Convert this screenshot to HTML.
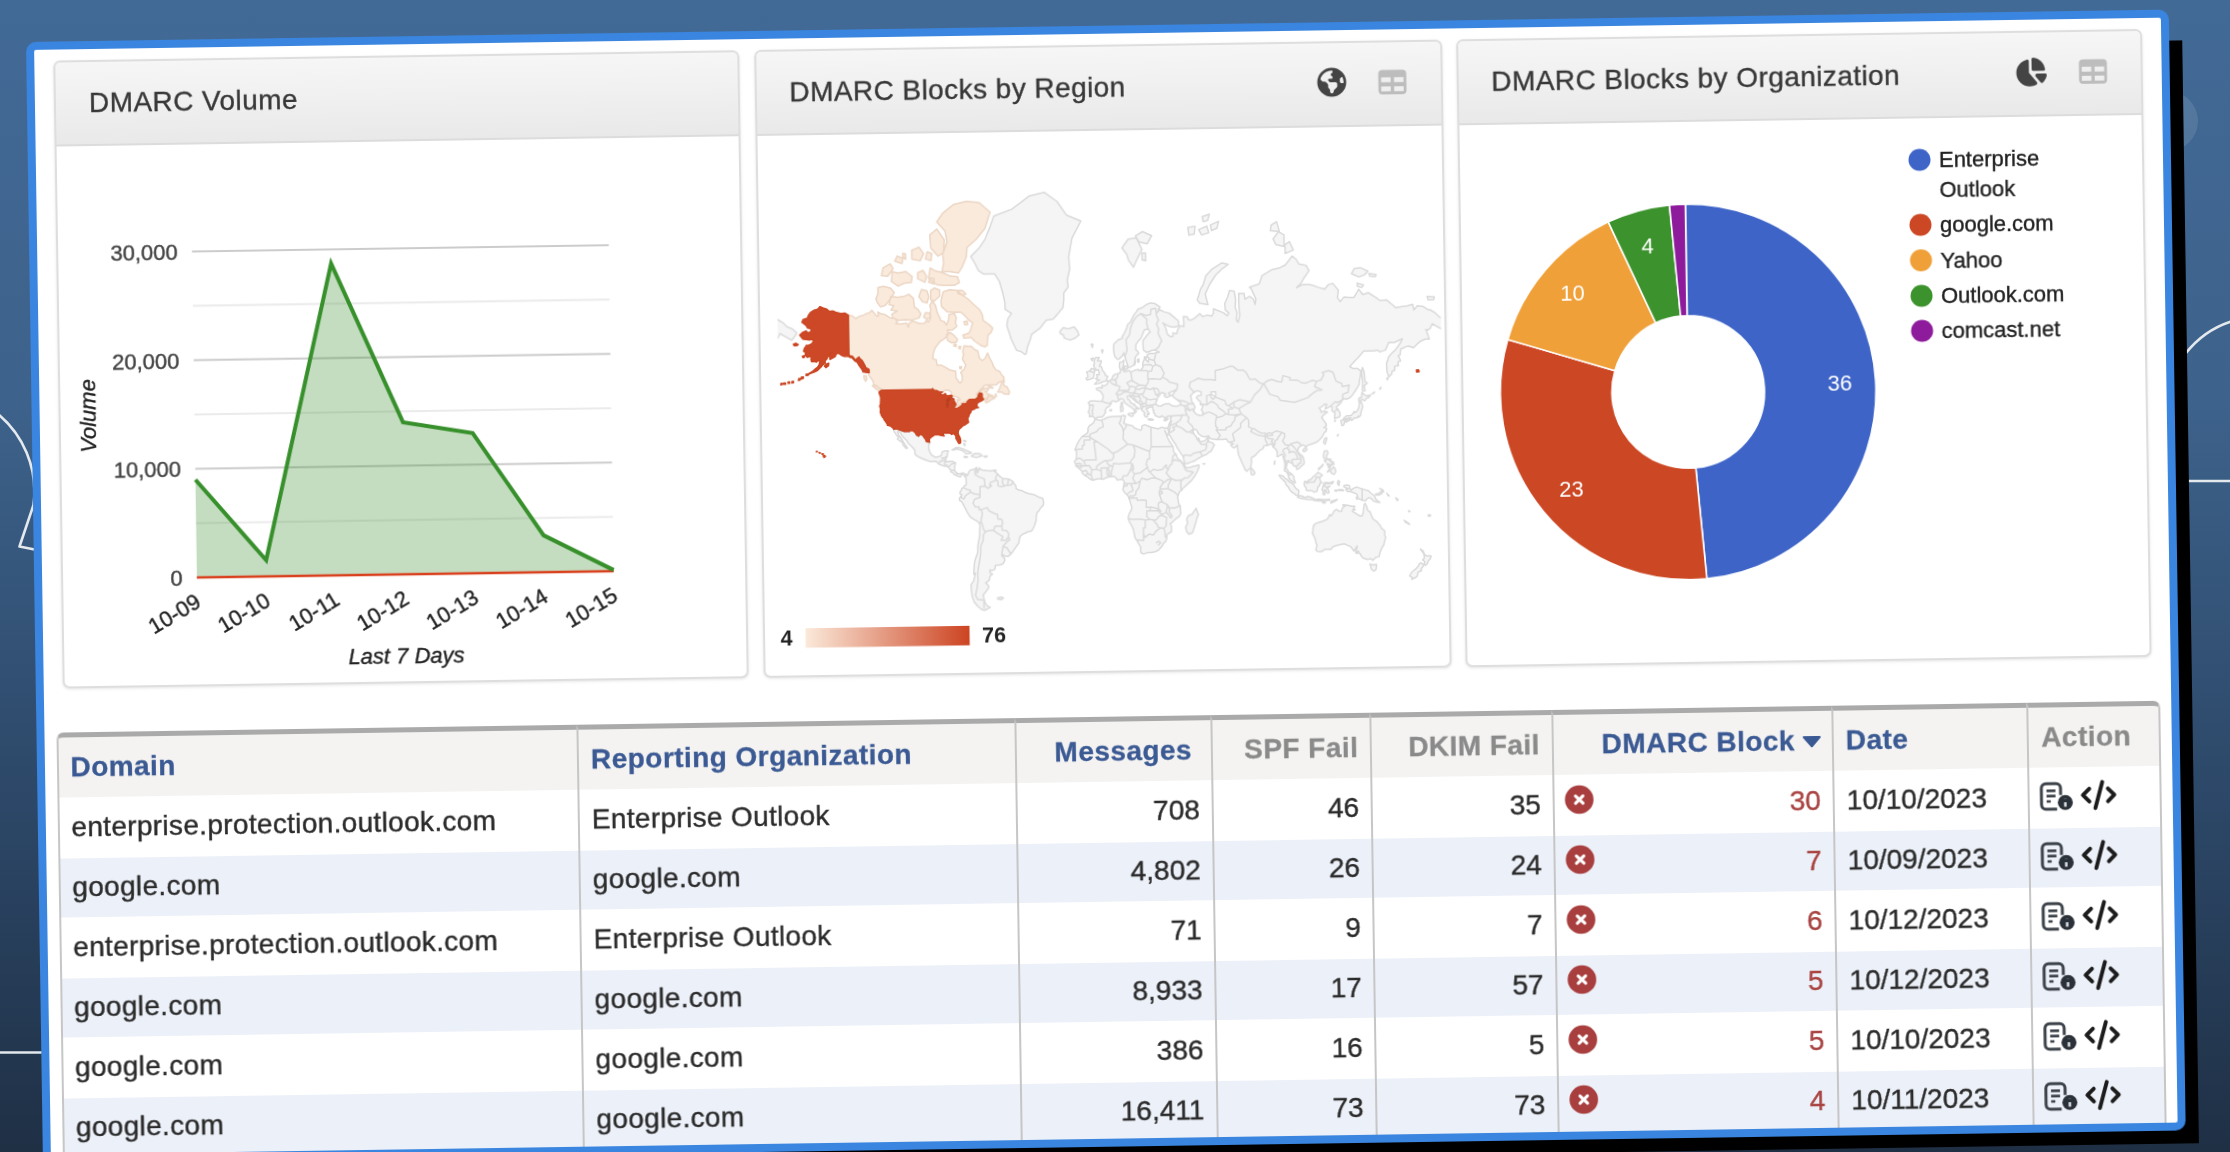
<!DOCTYPE html>
<html><head><meta charset="utf-8"><title>DMARC Dashboard</title>
<style>
html,body{margin:0;padding:0;}
body{width:2230px;height:1152px;overflow:hidden;position:relative;font-family:"Liberation Sans", sans-serif;
 background:linear-gradient(180deg,#426a96 0%,#3d628b 35%,#2c4767 70%,#1f3045 100%);}
#bgdeco{position:absolute;left:0;top:0;}
.rot{position:absolute;left:26.2px;top:42px;transform-origin:0 0;transform:rotate(-0.867deg);filter:blur(0.7px);}
#bgdeco{filter:blur(0.6px);}
#shadow{position:absolute;left:14px;top:30.5px;width:2142.2px;height:1103.6px;background:#000;}
#frame{position:absolute;left:0;top:0;width:2142.8px;height:1121px;box-sizing:border-box;border:8px solid #3a85df;border-radius:10px;background:#fff;overflow:hidden;}
#in{position:absolute;left:-8px;top:-8px;width:2142.8px;height:1121px;}
.panel{position:absolute;box-sizing:border-box;border:2px solid #dedede;border-radius:7px;background:#fff;box-shadow:0 1px 3px rgba(0,0,0,.10);overflow:hidden;}
.ph{position:absolute;left:0;top:0;right:0;height:82.69999999999999px;background:linear-gradient(180deg,#f6f6f6 0%,#f1f1f1 40%,#e9e9e9 100%);border-bottom:2px solid #dcdcdc;}
.pt{position:absolute;left:33px;top:0;line-height:82.69999999999999px;font-size:28px;letter-spacing:0.43px;color:#383838;white-space:nowrap;}
svg text{font-family:"Liberation Sans", sans-serif;paint-order:stroke;}
svg text.k{stroke:#333;stroke-width:0.4px;}
#ov{position:absolute;left:0;top:0;}
table{position:absolute;border-collapse:separate;border-spacing:0;table-layout:fixed;font-size:28px;color:#2b2b2b;}
th,td{box-sizing:border-box;padding:0 12px;height:60px;white-space:nowrap;overflow:hidden;border-left:2.600px solid #c6c6c6;text-align:left;vertical-align:middle;}
th{height:65.6px;background:#f4f3f1;font-weight:bold;font-size:28px;letter-spacing:0.45px;color:#3b5a94;border-top:5px solid #aaa;padding-top:0.7px;}
td.t{letter-spacing:0.33px;}
th:first-child{border-top-left-radius:7px;}
th:last-child{border-top-right-radius:7px;}
th.g{color:#8a8a8a;}
tr.e td{background:linear-gradient(to bottom,#fff 0,#fff 1px,#ecf0f8 1.5px,#ecf0f8 100%);}
td{-webkit-text-stroke:0.4px #2b2b2b;}
td.red{-webkit-text-stroke:0.4px #a94442;}
th{-webkit-text-stroke:0.3px #3b5a94;}
th.g{-webkit-text-stroke:0.3px #8a8a8a;}
.pt{-webkit-text-stroke:0.35px #383838;}
td.r,th.r{text-align:right;}
td.red{color:#a94442;}
th:last-child,td:last-child{border-right:2.600px solid #c6c6c6;}
</style></head>
<body>
<svg id="bgdeco" width="2230" height="1152" viewBox="0 0 2230 1152">
<g fill="none" stroke="#e4e9ee" stroke-width="2.600" stroke-linecap="round" stroke-linejoin="round">
<path d="M-6,411 A100.500,100.500 0 0 1 33.500,505 L19.500,546.500 L34.500,549.500"/>
<path d="M2186,353 A95,95 0 0 1 2236,320"/>
<path d="M2186,481 H2232"/>
<path d="M-2,1052.500 H42"/>
</g>
<circle cx="2168" cy="121" r="30" fill="#ffffff" fill-opacity="0.10"/>
</svg>
<div class="rot"><div id="shadow"></div>
<div id="frame"><div id="in">
<div class="panel" style="left:27.0px;top:18.6px;width:686.4px;height:628.5px"><div class="ph"><div class="pt">DMARC Volume</div></div></div>
<div class="panel" style="left:727.6px;top:18.6px;width:688.4px;height:628.5px"><div class="ph"><div class="pt">DMARC Blocks by Region</div></div></div>
<div class="panel" style="left:1429.5px;top:18.6px;width:686.6999999999998px;height:628.5px"><div class="ph"><div class="pt">DMARC Blocks by Organization</div></div></div>
<table style="left:19.5px;top:690.7px;width:2104.3px"><colgroup><col style="width:520.6px"><col style="width:437.8px"><col style="width:196.2px"><col style="width:159.3px"><col style="width:181.7px"><col style="width:280.0px"><col style="width:195.4px"><col style="width:133.3px"></colgroup><tr><th>Domain</th><th>Reporting Organization</th><th class="r" style="padding-right:19px">Messages</th><th class="r g">SPF Fail</th><th class="r g">DKIM Fail</th><th class="r" style="padding-right:37px">DMARC Block</th><th>Date</th><th class="g">Action</th></tr><tr class="o"><td class="t">enterprise.protection.outlook.com</td><td class="t">Enterprise Outlook</td><td class="r">708</td><td class="r">46</td><td class="r">35</td><td class="r red">30</td><td>10/10/2023</td><td></td></tr><tr class="e"><td class="t">google.com</td><td class="t">google.com</td><td class="r">4,802</td><td class="r">26</td><td class="r">24</td><td class="r red">7</td><td>10/09/2023</td><td></td></tr><tr class="o"><td class="t">enterprise.protection.outlook.com</td><td class="t">Enterprise Outlook</td><td class="r">71</td><td class="r">9</td><td class="r">7</td><td class="r red">6</td><td>10/12/2023</td><td></td></tr><tr class="e"><td class="t">google.com</td><td class="t">google.com</td><td class="r">8,933</td><td class="r">17</td><td class="r">57</td><td class="r red">5</td><td>10/12/2023</td><td></td></tr><tr class="o"><td class="t">google.com</td><td class="t">google.com</td><td class="r">386</td><td class="r">16</td><td class="r">5</td><td class="r red">5</td><td>10/10/2023</td><td></td></tr><tr class="e"><td class="t">google.com</td><td class="t">google.com</td><td class="r">16,411</td><td class="r">73</td><td class="r">73</td><td class="r red">4</td><td>10/11/2023</td><td></td></tr></table>
<svg id="ov" width="2142.8" height="1121" viewBox="0 0 2142.8 1121">
<rect x="162.8" y="537.00" width="416.8" height="2" fill="#cccccc"/>
<rect x="162.8" y="482.67" width="416.8" height="2" fill="#ebebeb"/>
<rect x="162.8" y="428.33" width="416.8" height="2" fill="#cccccc"/>
<rect x="162.8" y="374.00" width="416.8" height="2" fill="#ebebeb"/>
<rect x="162.8" y="319.67" width="416.8" height="2" fill="#cccccc"/>
<rect x="162.8" y="265.33" width="416.8" height="2" fill="#ebebeb"/>
<rect x="162.8" y="211.00" width="416.8" height="2" fill="#cccccc"/>
<polygon points="162.8,538.0 162.8,440.2 232.3,521.7 301.7,226.1 371.2,385.9 440.7,397.8 510.1,501.1 579.6,536.9 579.6,538.0" fill="#3a9030" fill-opacity="0.30"/>
<polyline points="162.8,538.0 579.6,538.0" fill="none" stroke="#d9411e" stroke-width="2.6"/>
<polyline points="162.8,440.2 232.3,521.7 301.7,226.1 371.2,385.9 440.7,397.8 510.1,501.1 579.6,536.9" fill="none" stroke="#37902b" stroke-width="4" stroke-linejoin="miter"/>
<text x="148.5" y="546.0" text-anchor="end" font-size="22" fill="#444" class="k">0</text>
<text x="148.5" y="437.3" text-anchor="end" font-size="22" fill="#444" class="k">10,000</text>
<text x="148.5" y="328.7" text-anchor="end" font-size="22" fill="#444" class="k">20,000</text>
<text x="148.5" y="220.0" text-anchor="end" font-size="22" fill="#444" class="k">30,000</text>
<text transform="translate(167.8,566.5) rotate(-30)" text-anchor="end" font-size="22" fill="#222" class="k">10-09</text>
<text transform="translate(237.3,566.5) rotate(-30)" text-anchor="end" font-size="22" fill="#222" class="k">10-10</text>
<text transform="translate(306.7,566.5) rotate(-30)" text-anchor="end" font-size="22" fill="#222" class="k">10-11</text>
<text transform="translate(376.2,566.5) rotate(-30)" text-anchor="end" font-size="22" fill="#222" class="k">10-12</text>
<text transform="translate(445.7,566.5) rotate(-30)" text-anchor="end" font-size="22" fill="#222" class="k">10-13</text>
<text transform="translate(515.1,566.5) rotate(-30)" text-anchor="end" font-size="22" fill="#222" class="k">10-14</text>
<text transform="translate(584.6,566.5) rotate(-30)" text-anchor="end" font-size="22" fill="#222" class="k">10-15</text>
<text x="371.20000000000005" y="627" text-anchor="middle" font-size="22" font-style="italic" fill="#222" class="k">Last 7 Days</text>
<text transform="translate(64,375.0) rotate(-90)" text-anchor="middle" font-size="22" font-style="italic" fill="#222" class="k">Volume</text>
<defs><clipPath id="mapclip"><rect x="747.3" y="103.3" width="663.2" height="541.7"/></clipPath></defs>
<g clip-path="url(#mapclip)">
<path d="M941.4,228.9 L950.5,219.7 L955.9,211.8 L961.4,198.6 L965.0,188.7 L983.1,182.1 L1001.2,168.9 L1015.7,165.7 L1028.4,175.0 L1037.5,188.7 L1052.0,195.0 L1042.9,211.8 L1039.3,230.6 L1040.2,242.8 L1037.5,253.8 L1038.4,260.5 L1033.8,266.8 L1033.8,272.8 L1032.9,281.1 L1028.4,286.4 L1023.0,292.4 L1015.7,293.8 L1009.4,301.7 L1004.8,304.8 L1001.2,307.3 L999.4,313.5 L996.7,320.2 L995.4,326.8 L994.0,327.5 L990.3,324.6 L985.8,323.2 L983.1,317.5 L980.4,311.5 L978.6,305.2 L976.4,298.5 L977.7,291.4 L981.3,286.4 L974.9,282.2 L974.9,275.6 L973.1,266.8 L969.5,253.8 L965.0,246.6 L954.1,246.6 L948.7,242.8 L945.0,234.8Z M1029.3,305.2 L1032.9,301.2 L1037.5,302.6 L1043.8,300.8 L1047.2,305.2 L1048.3,309.0 L1043.8,312.3 L1039.3,313.9 L1033.8,311.9 L1032.6,308.2 L1030.2,307.8Z M861.5,400.4 L865.9,400.0 L865.7,400.5 L872.4,403.0 L877.6,403.0 L877.6,402.0 L880.7,402.1 L883.6,404.5 L884.3,406.5 L886.7,407.8 L887.6,406.4 L888.3,406.0 L890.7,407.0 L892.0,409.2 L893.4,410.8 L894.1,413.1 L895.8,413.7 L897.7,414.0 L896.5,416.8 L896.5,420.8 L897.6,423.6 L899.2,426.7 L901.6,428.2 L903.4,429.0 L907.0,428.2 L908.8,427.5 L909.7,424.6 L910.1,423.5 L913.3,422.7 L916.1,422.7 L915.2,425.6 L914.6,428.8 L913.7,430.3 L913.0,433.1 L914.2,433.5 L917.9,433.3 L920.6,433.5 L922.9,435.0 L922.2,438.7 L922.0,441.4 L922.4,443.3 L924.0,444.9 L926.0,446.0 L928.7,445.4 L930.6,445.1 L933.5,446.6 L932.5,449.2 L931.5,447.8 L929.6,446.2 L928.2,447.4 L927.8,449.1 L926.0,448.5 L923.5,447.4 L922.0,446.9 L920.0,444.5 L918.2,443.8 L918.4,442.2 L916.1,439.4 L914.8,438.3 L911.5,437.9 L908.8,437.0 L906.6,435.9 L903.4,432.9 L900.7,433.3 L897.9,433.3 L894.3,432.0 L890.7,430.5 L887.1,428.8 L883.4,426.5 L882.4,424.6 L882.9,422.7 L881.6,420.2 L878.9,417.2 L876.2,414.7 L874.7,411.9 L872.6,409.8 L869.9,406.8 L868.6,403.6 L865.9,402.2 L865.7,403.6 L867.1,406.8 L869.3,409.8 L871.7,413.9 L873.5,416.8 L875.3,419.4 L874.0,419.8 L870.8,416.2 L870.2,413.5 L867.1,411.5 L865.3,410.2 L866.6,408.4 L864.1,405.7 L862.2,402.6Z M919.9,421.9 L923.3,419.8 L926.9,419.6 L930.6,420.9 L934.2,422.7 L937.8,424.2 L939.2,425.2 L936.9,425.8 L933.3,425.8 L932.4,424.2 L929.6,422.5 L925.1,421.1 L922.4,421.7Z M938.9,428.4 L942.3,425.8 L946.9,425.9 L949.8,428.2 L946.9,429.0 L943.8,429.9 L940.5,429.0Z M931.8,428.6 L935.4,429.0 L934.5,429.7 L932.0,429.4Z M951.9,428.4 L954.7,428.6 L954.3,429.5 L951.9,429.4Z M931.5,412.5 L933.8,412.9 L933.6,413.9 L931.8,413.3Z M932.0,415.5 L933.1,417.2 L932.5,417.8 L931.6,416.6Z M961.7,442.7 L963.3,442.7 L963.2,444.0 L961.5,444.0Z M933.5,446.6 L934.5,447.8 L936.9,443.1 L938.2,442.2 L941.4,441.6 L944.0,439.8 L944.7,442.3 L943.4,443.8 L944.5,445.4 L945.6,443.6 L946.5,441.4 L946.9,440.1 L947.6,441.4 L949.9,442.5 L954.1,443.1 L957.7,443.4 L961.4,442.9 L963.2,445.1 L965.0,446.9 L967.7,449.6 L970.4,451.4 L974.0,451.6 L976.8,452.3 L979.8,454.1 L981.3,456.8 L983.1,459.0 L983.1,461.3 L985.8,463.1 L988.5,463.5 L993.1,465.8 L995.8,466.7 L999.4,467.4 L1003.0,468.8 L1006.7,470.8 L1009.7,471.7 L1010.6,475.2 L1010.3,478.4 L1007.6,481.1 L1005.8,483.9 L1003.9,485.7 L1003.0,489.4 L1002.7,494.1 L1001.2,498.5 L999.4,502.3 L997.6,504.4 L994.9,504.6 L992.2,506.0 L989.4,507.0 L986.7,509.1 L985.6,512.5 L985.3,515.6 L983.1,518.7 L980.4,522.4 L978.6,525.0 L976.8,527.1 L974.2,529.2 L971.9,529.1 L968.2,527.1 L967.9,528.4 L970.1,530.4 L971.0,532.6 L969.5,536.0 L966.8,537.6 L961.4,538.1 L960.8,541.8 L958.1,543.2 L955.9,542.5 L955.9,545.4 L958.3,546.6 L955.9,548.6 L955.0,552.8 L951.4,555.4 L954.1,558.0 L954.5,560.1 L951.4,564.2 L948.7,567.5 L949.8,572.7 L949.9,573.9 L952.3,578.1 L955.6,579.9 L953.2,581.2 L949.6,582.7 L946.9,581.8 L943.2,578.7 L939.6,574.2 L937.8,568.9 L936.9,562.0 L936.7,557.2 L939.6,552.8 L941.4,545.4 L939.6,546.6 L940.0,540.6 L940.5,534.9 L941.8,530.4 L943.8,525.0 L944.1,518.7 L945.0,513.6 L946.0,508.5 L946.3,502.7 L946.5,497.9 L946.1,495.6 L944.1,493.7 L940.5,491.7 L936.9,489.1 L935.4,486.6 L933.8,483.9 L932.0,480.2 L930.2,476.6 L928.7,473.9 L926.6,472.6 L926.4,470.3 L928.2,468.3 L928.9,466.7 L927.1,466.1 L927.1,464.0 L928.6,462.2 L928.7,460.6 L930.7,459.7 L931.5,457.7 L933.3,457.2 L933.6,455.0 L933.3,452.3 L933.5,450.2 L932.5,449.2Z M963.2,570.4 L966.8,569.8 L969.0,570.6 L966.8,572.4 L963.2,571.8Z M1063.0,393.3 L1068.4,394.4 L1071.9,393.5 L1075.5,391.8 L1079.1,390.9 L1084.6,390.7 L1089.1,390.7 L1091.8,390.0 L1093.8,390.7 L1092.9,392.9 L1092.2,396.6 L1091.8,397.7 L1094.0,399.0 L1096.4,399.6 L1100.9,400.7 L1102.3,402.8 L1105.4,403.9 L1108.7,405.1 L1109.9,403.6 L1109.9,400.9 L1112.7,399.6 L1115.7,400.7 L1119.0,402.2 L1122.6,403.0 L1126.2,403.9 L1129.0,402.6 L1130.8,402.6 L1132.2,403.2 L1135.7,403.0 L1136.9,406.8 L1136.0,409.8 L1135.7,410.4 L1134.4,409.4 L1132.8,405.9 L1134.4,410.0 L1135.3,412.5 L1136.9,415.9 L1138.2,418.0 L1140.6,421.7 L1141.1,424.6 L1141.7,428.0 L1143.6,429.4 L1145.3,434.0 L1148.0,435.9 L1150.7,438.9 L1152.2,439.6 L1151.8,441.2 L1154.3,443.4 L1158.0,442.7 L1161.6,441.8 L1166.5,440.8 L1166.3,443.4 L1164.3,447.8 L1161.6,452.3 L1158.9,455.9 L1156.1,458.4 L1152.5,461.7 L1149.8,464.0 L1148.9,465.6 L1146.7,466.9 L1145.6,469.4 L1144.4,473.0 L1145.1,474.8 L1145.3,477.5 L1146.0,480.2 L1147.1,481.3 L1147.3,484.8 L1147.6,488.5 L1146.2,491.7 L1142.6,494.1 L1140.4,496.0 L1137.7,498.5 L1136.8,498.8 L1138.0,501.7 L1138.0,505.6 L1137.7,507.2 L1134.4,509.1 L1133.1,510.5 L1133.1,513.6 L1132.2,516.2 L1129.9,518.5 L1128.1,521.6 L1125.3,524.6 L1122.6,526.3 L1120.3,527.1 L1117.2,527.6 L1113.6,527.6 L1109.9,528.9 L1107.2,527.8 L1106.7,524.8 L1106.9,521.8 L1105.0,518.7 L1103.6,515.8 L1101.4,512.5 L1100.7,508.5 L1100.0,504.4 L1098.2,500.4 L1095.8,496.0 L1095.1,493.2 L1095.1,490.9 L1096.4,487.6 L1098.3,484.4 L1098.7,481.9 L1097.6,478.4 L1096.4,473.9 L1095.8,472.8 L1095.1,470.5 L1093.6,469.0 L1091.3,466.7 L1090.0,464.0 L1090.6,461.7 L1091.3,459.0 L1091.5,456.8 L1090.9,455.0 L1089.8,454.1 L1088.7,454.1 L1086.4,454.3 L1084.6,454.5 L1082.8,451.8 L1081.5,450.9 L1079.1,450.7 L1076.4,451.1 L1073.7,452.0 L1070.1,453.6 L1067.4,452.9 L1064.6,453.0 L1060.1,454.3 L1057.4,453.2 L1054.1,450.5 L1051.0,448.7 L1049.6,446.9 L1049.2,445.1 L1046.9,442.7 L1045.6,441.4 L1043.4,439.8 L1043.3,437.9 L1042.0,435.5 L1043.8,433.1 L1044.2,429.4 L1044.3,426.5 L1043.8,424.4 L1042.8,423.6 L1044.7,418.6 L1046.7,414.9 L1050.1,410.4 L1053.8,408.2 L1055.6,406.6 L1056.1,404.5 L1055.9,402.6 L1057.4,399.8 L1059.9,398.1 L1061.9,396.6Z M1163.0,483.9 L1165.2,490.4 L1163.9,493.2 L1162.5,497.9 L1160.7,503.6 L1158.9,508.5 L1155.2,509.7 L1152.9,506.6 L1152.2,502.7 L1154.2,498.8 L1153.4,494.1 L1155.2,491.3 L1158.9,489.8 L1161.0,486.6Z M1063.6,392.9 L1062.1,391.3 L1060.3,390.2 L1057.6,390.7 L1057.8,387.5 L1056.5,386.6 L1057.6,383.3 L1057.9,380.9 L1057.6,378.5 L1056.8,376.6 L1059.2,374.9 L1062.8,375.1 L1066.8,375.4 L1070.4,375.6 L1071.5,372.6 L1071.7,370.1 L1069.7,366.4 L1068.4,365.1 L1065.5,364.0 L1065.0,362.7 L1068.3,361.6 L1070.8,362.2 L1070.8,359.3 L1071.7,360.0 L1073.9,359.7 L1076.4,358.0 L1076.6,355.8 L1079.5,354.6 L1080.9,352.6 L1082.2,349.9 L1084.6,348.5 L1086.4,348.2 L1089.1,347.2 L1089.5,344.2 L1088.4,342.0 L1088.6,337.1 L1090.9,336.5 L1092.9,334.8 L1092.5,338.8 L1091.8,342.0 L1091.1,343.9 L1093.5,346.6 L1095.4,346.0 L1098.2,345.1 L1099.6,346.9 L1103.6,345.1 L1107.2,344.2 L1107.6,345.4 L1109.6,345.1 L1111.8,342.6 L1111.9,341.3 L1111.8,337.8 L1112.8,335.1 L1114.7,334.6 L1117.4,337.1 L1117.9,333.1 L1116.3,331.4 L1116.3,329.7 L1118.6,328.6 L1122.6,328.6 L1124.8,327.9 L1128.4,327.2 L1126.2,326.1 L1124.4,325.0 L1120.8,325.4 L1118.8,326.5 L1115.4,327.2 L1112.7,325.0 L1112.3,320.2 L1112.3,315.5 L1115.4,311.5 L1118.6,307.8 L1119.7,306.9 L1117.6,303.9 L1113.9,304.8 L1112.1,309.0 L1110.5,312.7 L1107.2,316.3 L1105.2,319.4 L1104.9,324.3 L1106.9,326.1 L1107.9,328.2 L1106.5,329.3 L1104.5,331.7 L1103.8,335.5 L1103.4,338.4 L1102.3,340.1 L1099.6,341.7 L1097.3,342.3 L1096.7,339.7 L1095.3,335.8 L1094.0,330.7 L1092.9,328.6 L1093.1,327.2 L1091.5,330.4 L1088.2,333.4 L1086.4,333.8 L1083.8,330.7 L1082.8,325.4 L1082.8,321.3 L1083.1,318.6 L1085.5,316.3 L1088.2,313.9 L1091.8,313.1 L1091.5,311.5 L1093.6,308.2 L1096.0,303.4 L1097.3,299.0 L1099.8,297.1 L1101.8,293.3 L1103.6,289.9 L1106.3,286.4 L1108.1,283.8 L1111.8,282.7 L1116.3,279.5 L1120.3,277.9 L1124.4,278.4 L1129.9,282.2 L1128.1,284.8 L1130.8,285.4 L1133.5,286.9 L1138.9,288.4 L1143.5,292.4 L1148.0,296.2 L1148.4,300.8 L1146.2,302.1 L1143.5,302.6 L1138.9,301.7 L1135.3,299.9 L1132.6,298.0 L1135.3,303.0 L1136.8,309.4 L1139.8,311.9 L1142.6,311.5 L1142.2,308.2 L1146.2,309.0 L1147.1,305.2 L1149.8,301.2 L1153.4,302.1 L1153.4,297.6 L1153.1,291.9 L1157.1,292.4 L1158.0,295.2 L1160.7,295.7 L1164.3,293.8 L1169.7,289.4 L1172.5,292.4 L1177.0,290.9 L1181.5,291.9 L1183.3,288.9 L1183.3,284.8 L1189.7,287.4 L1193.3,288.9 L1196.9,291.9 L1198.7,289.4 L1195.1,285.9 L1194.7,279.5 L1197.8,272.8 L1199.6,266.8 L1204.2,267.4 L1205.6,275.6 L1205.1,283.8 L1206.9,288.9 L1206.0,296.2 L1207.8,298.5 L1209.6,291.4 L1208.7,281.1 L1208.7,269.8 L1214.1,269.8 L1215.0,275.6 L1219.6,272.8 L1223.2,275.6 L1225.0,281.1 L1225.9,275.6 L1221.4,265.6 L1219.6,263.7 L1229.5,260.5 L1232.2,252.4 L1242.2,246.6 L1249.5,245.1 L1255.8,242.0 L1262.7,233.2 L1266.7,236.5 L1269.4,241.3 L1276.6,242.8 L1279.4,248.1 L1273.9,255.8 L1271.2,260.5 L1266.7,264.9 L1273.0,261.8 L1278.5,261.8 L1282.1,262.4 L1288.4,264.9 L1294.8,266.8 L1298.4,262.4 L1302.9,261.1 L1308.4,268.0 L1307.4,275.6 L1310.2,279.5 L1313.8,275.1 L1319.2,275.6 L1323.8,275.6 L1327.4,269.8 L1328.8,267.4 L1332.8,272.8 L1338.3,271.0 L1345.5,275.6 L1350.0,279.0 L1356.4,278.4 L1362.7,283.8 L1365.4,286.4 L1370.9,285.4 L1377.2,284.8 L1382.6,283.3 L1383.6,288.9 L1387.2,284.8 L1392.6,285.4 L1398.0,288.9 L1399.9,289.0 L1405.3,292.4 L1408.9,296.2 L1414.4,298.5 L1418.5,302.6 L1417.1,305.2 L1413.5,309.9 L1407.1,306.1 L1401.7,303.0 L1399.9,307.3 L1397.1,309.4 L1395.3,308.6 L1397.1,313.5 L1398.6,318.3 L1394.4,318.3 L1389.9,320.2 L1386.3,323.2 L1382.6,326.8 L1378.1,325.0 L1374.5,325.7 L1372.3,327.2 L1370.0,327.5 L1369.1,333.8 L1367.2,334.5 L1369.1,338.1 L1369.6,339.7 L1367.2,340.4 L1366.9,343.5 L1367.6,344.2 L1363.6,345.1 L1363.6,349.1 L1361.1,349.7 L1360.5,352.6 L1357.6,355.5 L1355.8,349.7 L1355.5,342.0 L1357.8,335.5 L1360.0,332.8 L1364.5,328.6 L1370.0,321.3 L1371.8,317.5 L1363.6,321.3 L1358.2,320.9 L1354.6,328.6 L1349.1,330.4 L1346.9,328.6 L1342.8,329.3 L1337.3,329.3 L1332.8,329.3 L1327.4,335.5 L1324.1,338.8 L1318.7,344.5 L1321.9,346.6 L1326.5,346.6 L1329.7,349.1 L1329.2,354.0 L1328.3,358.3 L1327.9,362.4 L1324.7,367.7 L1321.0,372.9 L1318.3,375.8 L1314.7,377.3 L1312.7,376.3 L1310.5,378.3 L1308.7,381.4 L1305.6,383.8 L1304.5,385.6 L1306.5,387.7 L1308.2,390.7 L1308.4,393.1 L1307.4,394.9 L1304.7,395.7 L1302.7,396.2 L1302.9,393.3 L1303.1,390.7 L1300.2,388.4 L1300.6,384.9 L1299.1,383.8 L1294.8,386.1 L1293.3,386.6 L1295.1,382.1 L1293.0,381.7 L1290.2,384.2 L1287.5,385.6 L1289.1,387.9 L1289.3,389.8 L1292.6,388.8 L1295.7,389.8 L1293.0,391.5 L1291.7,392.7 L1289.7,395.1 L1291.1,396.8 L1292.8,399.4 L1294.4,402.0 L1294.4,403.6 L1293.0,404.7 L1291.7,405.1 L1294.8,406.1 L1294.0,409.2 L1292.4,410.0 L1290.4,413.9 L1287.9,416.8 L1285.2,419.2 L1280.8,421.1 L1278.5,421.7 L1274.8,422.9 L1273.6,425.0 L1272.5,422.9 L1270.3,422.3 L1269.2,422.7 L1267.0,424.2 L1265.6,426.5 L1265.4,428.4 L1266.7,430.3 L1268.9,432.6 L1269.9,432.9 L1271.2,435.9 L1271.8,439.6 L1271.2,441.6 L1268.5,443.3 L1267.0,445.3 L1264.3,446.7 L1263.8,444.5 L1263.1,443.4 L1261.2,443.1 L1260.2,441.2 L1259.1,440.1 L1256.7,439.4 L1256.5,437.8 L1254.9,438.1 L1254.7,440.5 L1254.0,442.5 L1253.5,445.4 L1254.9,446.9 L1256.0,449.2 L1258.2,450.5 L1259.1,451.1 L1261.1,453.6 L1261.2,455.9 L1262.1,458.6 L1262.7,459.7 L1261.2,459.9 L1259.4,458.4 L1257.3,457.0 L1256.0,455.0 L1255.4,452.3 L1255.1,450.5 L1253.6,448.7 L1251.8,447.8 L1252.0,445.1 L1252.4,443.3 L1252.4,440.5 L1251.6,436.8 L1250.7,434.0 L1250.6,432.2 L1249.3,431.2 L1248.0,432.0 L1245.8,433.5 L1244.6,433.1 L1244.9,430.3 L1244.6,428.0 L1243.1,425.8 L1240.9,423.8 L1240.4,422.7 L1240.0,421.1 L1237.9,420.8 L1235.9,422.1 L1233.5,422.3 L1231.3,422.9 L1231.2,424.2 L1230.4,425.6 L1227.7,426.9 L1225.9,428.8 L1224.6,429.9 L1222.8,432.0 L1220.8,433.3 L1219.2,434.0 L1218.8,436.8 L1219.2,438.5 L1218.5,441.4 L1218.3,443.6 L1217.0,445.4 L1215.4,446.2 L1214.2,447.7 L1212.3,446.0 L1211.8,444.2 L1210.5,441.2 L1209.4,438.9 L1208.0,435.3 L1207.4,434.0 L1206.3,431.2 L1205.6,427.6 L1205.4,424.6 L1205.3,422.5 L1205.1,421.3 L1202.4,424.0 L1200.5,423.6 L1198.6,421.2 L1201.1,420.0 L1197.8,418.8 L1195.8,417.8 L1195.1,416.2 L1194.2,415.1 L1190.6,415.4 L1186.6,415.6 L1184.2,415.5 L1180.6,415.1 L1177.5,414.3 L1176.6,411.7 L1173.0,412.7 L1169.7,411.9 L1167.0,410.0 L1165.7,408.0 L1164.7,405.7 L1162.5,404.9 L1161.6,405.7 L1160.7,406.8 L1161.6,409.0 L1163.0,411.1 L1164.5,412.7 L1164.7,414.7 L1165.7,416.2 L1166.5,413.7 L1167.2,415.3 L1167.0,416.8 L1168.8,417.4 L1172.3,416.8 L1173.9,415.3 L1175.4,413.9 L1175.9,413.1 L1175.9,416.0 L1177.0,417.8 L1179.9,418.6 L1182.1,420.8 L1180.1,424.6 L1178.4,427.5 L1177.0,427.7 L1174.3,430.1 L1171.5,431.2 L1168.3,432.9 L1164.3,435.0 L1161.6,436.8 L1158.0,437.9 L1155.2,439.0 L1152.5,439.2 L1152.0,437.8 L1151.3,435.0 L1150.9,432.2 L1148.9,429.4 L1146.2,425.2 L1144.7,422.7 L1143.5,419.8 L1141.7,417.2 L1139.8,414.5 L1138.0,410.8 L1136.8,409.6 L1137.1,406.8 L1136.9,406.8 L1135.7,403.0 L1136.4,402.0 L1136.9,400.5 L1137.1,399.8 L1138.0,397.5 L1138.8,396.0 L1138.6,394.0 L1138.9,392.7 L1139.3,391.3 L1138.0,391.5 L1136.4,391.1 L1134.4,392.4 L1132.6,392.7 L1129.9,390.9 L1128.8,392.2 L1126.6,392.2 L1125.0,391.1 L1123.3,390.7 L1123.0,388.6 L1121.7,387.7 L1122.3,385.6 L1121.0,384.9 L1121.2,383.8 L1120.8,382.4 L1120.6,381.9 L1117.9,381.7 L1116.6,383.3 L1115.2,382.6 L1114.7,383.8 L1115.4,385.4 L1117.2,387.9 L1117.2,389.2 L1115.7,388.6 L1115.7,390.0 L1115.6,391.8 L1114.3,392.0 L1113.0,391.1 L1112.3,389.1 L1113.0,387.7 L1111.8,386.6 L1111.2,386.1 L1109.9,384.5 L1108.9,383.1 L1109.0,380.0 L1108.1,378.8 L1107.2,378.0 L1104.5,376.6 L1103.4,375.4 L1101.2,373.6 L1100.0,370.8 L1098.9,372.1 L1098.5,370.1 L1096.0,370.8 L1096.2,373.6 L1098.3,375.1 L1099.4,377.8 L1103.1,379.3 L1102.5,380.2 L1104.5,381.2 L1107.2,383.5 L1106.3,384.0 L1104.5,382.6 L1103.8,384.5 L1104.7,386.1 L1103.6,387.5 L1102.1,388.5 L1102.5,386.8 L1102.7,384.9 L1102.0,383.8 L1100.7,383.1 L1099.6,381.9 L1097.3,380.7 L1095.8,379.5 L1093.8,378.0 L1092.7,376.6 L1092.4,375.1 L1091.5,373.9 L1089.8,373.1 L1088.2,374.4 L1087.1,374.9 L1084.6,376.3 L1082.8,375.6 L1080.9,375.4 L1079.3,376.6 L1079.5,378.0 L1077.7,380.5 L1075.1,381.9 L1073.2,384.9 L1074.1,386.6 L1072.8,387.7 L1072.3,389.3 L1069.9,391.3 L1065.7,391.3 L1064.0,392.6Z M411.2,392.9 L409.8,391.3 L408.0,390.2 L405.3,390.7 L405.4,387.5 L404.2,386.6 L405.3,383.3 L405.6,380.9 L405.3,378.5 L404.5,376.6 L406.9,374.9 L410.5,375.1 L414.5,375.4 L418.1,375.6 L419.2,372.6 L419.4,370.1 L417.4,366.4 L416.1,365.1 L413.2,364.0 L412.7,362.7 L415.9,361.6 L418.5,362.2 L418.5,359.3 L419.4,360.0 L421.6,359.7 L424.1,358.0 L424.3,355.8 L427.2,354.6 L428.6,352.6 L429.9,349.9 L432.3,348.5 L434.1,348.2 L436.8,347.2 L437.1,344.2 L436.1,342.0 L436.2,337.1 L438.6,336.5 L440.6,334.8 L440.2,338.8 L439.5,342.0 L438.8,343.9 L441.1,346.6 L443.1,346.0 L445.8,345.1 L447.3,346.9 L451.3,345.1 L454.9,344.2 L455.3,345.4 L457.3,345.1 L459.4,342.6 L459.6,341.3 L459.4,337.8 L460.5,335.1 L462.3,334.6 L465.0,337.1 L465.6,333.1 L464.0,331.4 L464.0,329.7 L466.3,328.6 L470.3,328.6 L472.5,327.9 L476.1,327.2 L473.9,326.1 L472.1,325.0 L468.5,325.4 L466.5,326.5 L463.1,327.2 L460.3,325.0 L460.0,320.2 L460.0,315.5 L463.1,311.5 L466.3,307.8 L467.4,306.9 L465.2,303.9 L461.6,304.8 L459.8,309.0 L458.2,312.7 L454.9,316.3 L452.9,319.4 L452.5,324.3 L454.5,326.1 L455.6,328.2 L454.2,329.3 L452.2,331.7 L451.5,335.5 L451.1,338.4 L450.0,340.1 L447.3,341.7 L444.9,342.3 L444.4,339.7 L442.9,335.8 L441.7,330.7 L440.6,328.6 L440.8,327.2 L439.1,330.4 L435.9,333.4 L434.1,333.8 L431.5,330.7 L430.4,325.4 L430.4,321.3 L430.8,318.6 L433.2,316.3 L435.9,313.9 L439.5,313.1 L439.1,311.5 L441.3,308.2 L443.7,303.4 L444.9,299.0 L447.5,297.1 L449.5,293.3 L451.3,289.9 L454.0,286.4 L455.8,283.8 L459.4,282.7 L464.0,279.5 L467.9,277.9 L472.1,278.4 L477.6,282.2 L475.7,284.8 L478.5,285.4 L481.2,286.9 L486.6,288.4 L491.1,292.4 L495.7,296.2 L496.0,300.8 L493.9,302.1 L491.1,302.6 L486.6,301.7 L483.0,299.9 L480.3,298.0 L483.0,303.0 L484.4,309.4 L487.5,311.9 L490.2,311.5 L489.9,308.2 L493.9,309.0 L494.8,305.2 L497.5,301.2 L501.1,302.1 L501.1,297.6 L500.7,291.9 L504.7,292.4 L505.6,295.2 L508.4,295.7 L512.0,293.8 L517.4,289.4 L520.1,292.4 L524.7,290.9 L529.2,291.9 L531.0,288.9 L531.0,284.8 L537.3,287.4 L541.0,288.9 L544.6,291.9 L546.4,289.4 L542.8,285.9 L542.4,279.5 L545.5,272.8 L547.3,266.8 L551.8,267.4 L553.3,275.6 L552.8,283.8 L554.6,288.9 L553.7,296.2 L555.5,298.5 L557.3,291.4 L556.4,281.1 L556.4,269.8 L561.8,269.8 L562.7,275.6 L567.2,272.8 L570.9,275.6 L572.7,281.1 L573.6,275.6 L569.1,265.6 L567.2,263.7 L577.2,260.5 L579.9,252.4 L589.9,246.6 L597.1,245.1 L603.5,242.0 L610.4,233.2 L614.4,236.5 L617.1,241.3 L624.3,242.8 L627.0,248.1 L621.6,255.8 L618.9,260.5 L614.4,264.9 L620.7,261.8 L626.1,261.8 L629.8,262.4 L636.1,264.9 L642.4,266.8 L646.1,262.4 L650.6,261.1 L656.0,268.0 L655.1,275.6 L657.8,279.5 L661.5,275.1 L666.9,275.6 L671.4,275.6 L675.1,269.8 L676.5,267.4 L680.5,272.8 L685.9,271.0 L693.2,275.6 L697.7,279.0 L704.1,278.4 L710.4,283.8 L713.1,286.4 L718.5,285.4 L724.9,284.8 L730.3,283.3 L731.2,288.9 L734.9,284.8 L740.3,285.4 L745.7,288.9 L747.5,289.0 L753.0,292.4 L756.6,296.2 L762.0,298.5 L766.2,302.6 L764.8,305.2 L761.1,309.9 L754.8,306.1 L749.4,303.0 L747.5,307.3 L744.8,309.4 L743.0,308.6 L744.8,313.5 L746.3,318.3 L742.1,318.3 L737.6,320.2 L734.0,323.2 L730.3,326.8 L725.8,325.0 L722.2,325.7 L720.0,327.2 L717.6,327.5 L716.7,333.8 L714.9,334.5 L716.7,338.1 L717.3,339.7 L714.9,340.4 L714.6,343.5 L715.3,344.2 L711.3,345.1 L711.3,349.1 L708.8,349.7 L708.2,352.6 L705.3,355.5 L703.5,349.7 L703.1,342.0 L705.5,335.5 L707.7,332.8 L712.2,328.6 L717.6,321.3 L719.5,317.5 L711.3,321.3 L705.9,320.9 L702.2,328.6 L696.8,330.4 L694.6,328.6 L690.5,329.3 L685.0,329.3 L680.5,329.3 L675.1,335.5 L671.8,338.8 L666.4,344.5 L669.6,346.6 L674.2,346.6 L677.4,349.1 L676.9,354.0 L676.0,358.3 L675.6,362.4 L672.3,367.7 L668.7,372.9 L666.0,375.8 L662.4,377.3 L660.4,376.3 L658.2,378.3 L656.4,381.4 L653.3,383.8 L652.2,385.6 L654.2,387.7 L655.9,390.7 L656.0,393.1 L655.1,394.9 L652.4,395.7 L650.4,396.2 L650.6,393.3 L650.8,390.7 L647.9,388.4 L648.2,384.9 L646.8,383.8 L642.4,386.1 L641.0,386.6 L642.8,382.1 L640.6,381.7 L637.9,384.2 L635.2,385.6 L636.8,387.9 L637.0,389.8 L640.3,388.8 L643.4,389.8 L640.6,391.5 L639.4,392.7 L637.4,395.1 L638.8,396.8 L640.5,399.4 L642.1,402.0 L642.1,403.6 L640.6,404.7 L639.4,405.1 L642.4,406.1 L641.7,409.2 L640.1,410.0 L638.1,413.9 L635.6,416.8 L632.8,419.2 L628.5,421.1 L626.1,421.7 L622.5,422.9 L621.2,425.0 L620.2,422.9 L618.0,422.3 L616.9,422.7 L614.7,424.2 L613.3,426.5 L613.1,428.4 L614.4,430.3 L616.5,432.6 L617.6,432.9 L618.9,435.9 L619.4,439.6 L618.9,441.6 L616.2,443.3 L614.7,445.3 L612.0,446.7 L611.5,444.5 L610.7,443.4 L608.9,443.1 L607.8,441.2 L606.7,440.1 L604.4,439.4 L604.2,437.8 L602.6,438.1 L602.4,440.5 L601.7,442.5 L601.1,445.4 L602.6,446.9 L603.7,449.2 L605.8,450.5 L606.7,451.1 L608.7,453.6 L608.9,455.9 L609.8,458.6 L610.4,459.7 L608.9,459.9 L607.1,458.4 L604.9,457.0 L603.7,455.0 L603.1,452.3 L602.8,450.5 L601.3,448.7 L599.5,447.8 L599.7,445.1 L600.0,443.3 L600.0,440.5 L599.3,436.8 L598.4,434.0 L598.2,432.2 L597.0,431.2 L595.7,432.0 L593.5,433.5 L592.3,433.1 L592.6,430.3 L592.3,428.0 L590.8,425.8 L588.6,423.8 L588.1,422.7 L587.7,421.1 L585.5,420.8 L583.6,422.1 L581.2,422.3 L579.0,422.9 L578.8,424.2 L578.1,425.6 L575.4,426.9 L573.6,428.8 L572.3,429.9 L570.5,432.0 L568.5,433.3 L566.9,434.0 L566.5,436.8 L566.9,438.5 L566.2,441.4 L566.0,443.6 L564.7,445.4 L563.1,446.2 L561.9,447.7 L560.0,446.0 L559.5,444.2 L558.2,441.2 L557.1,438.9 L555.6,435.3 L555.1,434.0 L554.0,431.2 L553.3,427.6 L553.1,424.6 L552.9,422.5 L552.8,421.3 L550.0,424.0 L548.2,423.6 L546.3,421.2 L548.8,420.0 L545.5,418.8 L543.5,417.8 L542.8,416.2 L541.9,415.1 L538.3,415.4 L534.3,415.6 L531.9,415.5 L528.3,415.1 L525.2,414.3 L524.3,411.7 L520.7,412.7 L517.4,411.9 L514.7,410.0 L513.4,408.0 L512.3,405.7 L510.2,404.9 L509.3,405.7 L508.4,406.8 L509.3,409.0 L510.7,411.1 L512.2,412.7 L512.3,414.7 L513.4,416.2 L514.2,413.7 L514.9,415.3 L514.7,416.8 L516.5,417.4 L520.0,416.8 L521.6,415.3 L523.0,413.9 L523.6,413.1 L523.6,416.0 L524.7,417.8 L527.6,418.6 L529.7,420.8 L527.7,424.6 L526.1,427.5 L524.7,427.7 L521.9,430.1 L519.2,431.2 L516.0,432.9 L512.0,435.0 L509.3,436.8 L505.6,437.9 L502.9,439.0 L500.2,439.2 L499.7,437.8 L498.9,435.0 L498.6,432.2 L496.6,429.4 L493.9,425.2 L492.4,422.7 L491.1,419.8 L489.3,417.2 L487.5,414.5 L485.7,410.8 L484.4,409.6 L484.8,406.8 L484.6,406.8 L483.4,403.0 L484.1,402.0 L484.6,400.5 L484.8,399.8 L485.7,397.5 L486.4,396.0 L486.2,394.0 L486.6,392.7 L487.0,391.3 L485.7,391.5 L484.1,391.1 L482.1,392.4 L480.3,392.7 L477.6,390.9 L476.5,392.2 L474.3,392.2 L472.7,391.1 L471.0,390.7 L470.7,388.6 L469.4,387.7 L469.9,385.6 L468.7,384.9 L468.9,383.8 L468.5,382.4 L468.3,381.9 L465.6,381.7 L464.3,383.3 L462.9,382.6 L462.3,383.8 L463.1,385.4 L464.9,387.9 L464.9,389.2 L463.4,388.6 L463.4,390.0 L463.2,391.8 L462.0,392.0 L460.7,391.1 L460.0,389.1 L460.7,387.7 L459.4,386.6 L458.9,386.1 L457.6,384.5 L456.5,383.1 L456.7,380.0 L455.8,378.8 L454.9,378.0 L452.2,376.6 L451.1,375.4 L448.9,373.6 L447.7,370.8 L446.6,372.1 L446.2,370.1 L443.7,370.8 L443.8,373.6 L446.0,375.1 L447.1,377.8 L450.7,379.3 L450.2,380.2 L452.2,381.2 L454.9,383.5 L454.0,384.0 L452.2,382.6 L451.5,384.5 L452.4,386.1 L451.3,387.5 L449.7,388.5 L450.2,386.8 L450.4,384.9 L449.6,383.8 L448.4,383.1 L447.3,381.9 L444.9,380.7 L443.5,379.5 L441.5,378.0 L440.4,376.6 L440.0,375.1 L439.1,373.9 L437.5,373.1 L435.9,374.4 L434.8,374.9 L432.3,376.3 L430.4,375.6 L428.6,375.4 L427.0,376.6 L427.2,378.0 L425.4,380.5 L422.8,381.9 L420.8,384.9 L421.7,386.6 L420.5,387.7 L419.9,389.3 L417.6,391.3 L413.4,391.3 L411.7,392.6Z M1126.4,380.9 L1124.4,379.3 L1124.3,377.3 L1125.3,375.4 L1125.9,373.1 L1127.5,371.1 L1129.0,368.8 L1131.3,367.5 L1132.6,368.8 L1134.4,369.0 L1132.6,370.6 L1134.4,372.6 L1136.2,372.4 L1138.0,371.3 L1140.0,370.8 L1137.1,368.8 L1138.0,367.7 L1141.7,366.4 L1144.9,365.9 L1142.9,367.5 L1142.2,369.0 L1140.7,370.8 L1142.6,372.9 L1145.6,375.1 L1148.9,377.8 L1149.1,380.0 L1146.2,381.4 L1142.6,381.4 L1139.7,380.7 L1137.4,378.9 L1134.4,379.0 L1131.7,379.7 L1129.9,381.2Z M1158.9,371.6 L1162.5,367.7 L1166.1,366.4 L1169.7,367.7 L1169.7,371.1 L1166.1,371.6 L1164.8,373.4 L1167.0,376.1 L1168.8,377.3 L1168.8,380.2 L1171.2,381.4 L1170.6,383.8 L1169.7,385.4 L1171.2,388.4 L1171.2,390.7 L1167.9,391.3 L1164.7,390.0 L1162.5,387.7 L1162.3,384.9 L1163.4,382.6 L1161.6,379.0 L1159.8,376.6 L1159.8,373.6Z M1179.7,367.7 L1184.2,367.7 L1184.2,372.9 L1181.5,375.1 L1179.3,372.9Z M1063.4,358.2 L1067.4,357.7 L1071.0,356.3 L1076.2,354.9 L1075.0,354.0 L1076.8,350.8 L1074.2,349.7 L1073.9,347.8 L1071.5,344.8 L1070.8,342.0 L1070.1,340.7 L1068.3,340.4 L1070.1,336.8 L1070.4,335.1 L1067.4,334.8 L1066.5,335.1 L1068.3,331.7 L1064.6,331.7 L1063.2,335.1 L1063.4,338.1 L1062.5,339.4 L1063.7,342.3 L1065.0,343.5 L1064.5,344.5 L1067.4,343.9 L1067.9,346.3 L1068.3,348.8 L1065.5,348.8 L1065.9,350.2 L1066.3,351.7 L1064.3,352.9 L1066.5,353.8 L1068.3,354.3 L1066.1,354.9 L1064.6,356.9Z M1062.3,352.0 L1062.8,348.8 L1063.6,345.1 L1062.8,342.9 L1060.3,342.6 L1058.3,345.1 L1055.6,346.0 L1056.5,348.5 L1056.8,350.8 L1054.9,352.3 L1055.9,354.0 L1058.8,353.2Z M1092.7,222.5 L1099.1,213.8 L1107.2,212.8 L1112.7,224.4 L1107.2,234.8 L1104.0,242.0 L1099.1,234.8 L1097.3,228.9Z M1106.3,210.7 L1113.6,206.5 L1122.6,210.7 L1118.1,218.7 L1109.9,216.8Z M1112.7,228.0 L1116.3,228.0 L1116.3,235.7 L1112.7,234.8Z M1167.2,275.6 L1169.7,279.0 L1177.9,280.6 L1175.2,269.8 L1179.7,260.5 L1186.0,251.0 L1193.3,244.3 L1198.7,240.5 L1192.4,238.9 L1182.4,245.1 L1176.1,251.7 L1173.4,260.5 L1170.6,264.9 L1168.8,271.0Z M1158.9,203.1 L1166.1,202.0 L1165.2,209.7 L1159.8,210.7Z M1169.7,205.4 L1177.9,202.0 L1179.7,208.6 L1172.5,210.7Z M1181.5,200.9 L1189.7,197.4 L1187.9,204.3 L1182.4,206.5Z M1173.4,192.5 L1180.6,190.0 L1178.8,196.2 L1174.3,197.4Z M1246.7,221.6 L1254.9,223.5 L1254.9,211.8 L1249.5,208.6 L1244.0,215.8Z M1255.8,230.6 L1264.0,227.1 L1260.3,218.7 L1255.8,221.6Z M1241.3,207.5 L1250.4,208.6 L1247.7,198.6 L1242.2,202.0Z M1321.9,251.7 L1329.2,255.1 L1334.6,253.1 L1338.3,249.5 L1331.0,245.9 L1324.7,246.6Z M1339.2,251.7 L1346.4,253.1 L1345.5,255.1 L1340.1,254.5Z M1327.4,261.1 L1333.7,263.1 L1331.9,265.6 L1327.4,264.3Z M1397.1,275.6 L1404.4,276.2 L1403.5,279.0 L1398.0,279.0Z M1088.7,380.9 L1090.9,380.9 L1091.5,382.6 L1091.1,385.6 L1089.1,386.1 L1088.9,383.1Z M1089.3,377.6 L1090.7,376.6 L1090.9,379.0 L1090.4,380.5 L1089.5,379.5Z M1096.4,388.4 L1098.2,387.9 L1102.0,387.7 L1101.1,390.7 L1099.6,391.1 L1096.4,389.3Z M1116.3,394.0 L1118.1,393.8 L1121.4,394.4 L1121.2,395.1 L1118.5,395.2 L1116.3,394.6Z M1132.2,394.9 L1133.5,394.2 L1136.4,393.5 L1135.3,395.1 L1133.5,396.0 L1132.2,395.6Z M1077.9,384.7 L1079.3,383.9 L1080.0,384.5 L1079.3,385.4Z M1093.3,340.7 L1096.5,340.4 L1096.4,343.5 L1093.6,344.5 L1093.5,342.6Z M1091.5,341.7 L1093.3,342.0 L1093.1,343.5 L1091.6,343.2Z M1106.5,334.1 L1108.1,334.1 L1107.8,337.1 L1106.7,336.8Z M1103.4,337.1 L1104.7,336.1 L1103.6,339.7Z M1113.6,331.7 L1115.7,332.1 L1115.0,334.0 L1113.4,333.4Z M1060.5,318.3 L1062.3,318.3 L1061.6,321.7Z M1070.8,324.3 L1072.3,324.3 L1071.3,327.2Z M1060.1,332.8 L1062.5,332.1 L1061.2,334.8Z M1331.4,345.7 L1332.8,349.7 L1333.4,354.0 L1333.7,359.7 L1335.9,361.3 L1332.8,363.8 L1333.4,367.0 L1333.7,369.0 L1331.0,369.0 L1331.0,365.1 L1331.4,361.1 L1331.0,356.9 L1330.6,352.6 L1330.5,348.8Z M1327.0,377.6 L1327.9,375.8 L1329.9,375.8 L1330.5,370.6 L1332.8,372.9 L1335.2,374.1 L1337.0,373.4 L1337.3,375.8 L1334.6,376.8 L1333.4,379.0 L1330.5,377.6 L1329.0,378.3 L1329.4,379.5 L1327.6,380.5Z M1329.0,380.2 L1329.9,380.5 L1331.0,384.9 L1330.1,387.7 L1329.0,390.9 L1328.8,393.5 L1327.0,395.3 L1326.8,394.0 L1325.7,394.9 L1325.2,396.0 L1324.1,396.0 L1321.9,396.0 L1321.8,396.6 L1320.1,398.3 L1319.8,398.5 L1318.5,396.6 L1319.0,395.7 L1316.5,396.0 L1314.7,396.6 L1311.1,397.4 L1311.8,396.4 L1314.0,394.2 L1314.7,393.8 L1317.4,393.8 L1318.9,393.5 L1320.1,392.9 L1321.4,391.1 L1322.5,389.5 L1321.9,391.1 L1324.7,389.8 L1325.6,388.6 L1327.0,386.1 L1327.4,384.5 L1327.4,382.4 L1327.9,380.9Z M1313.6,398.6 L1314.7,397.3 L1316.9,396.4 L1317.8,397.7 L1316.9,398.9 L1315.6,398.3 L1314.7,400.1 L1313.6,399.4Z M1310.9,397.5 L1312.3,398.1 L1312.3,399.0 L1312.7,400.1 L1311.8,402.8 L1310.5,403.6 L1309.6,403.0 L1309.6,401.5 L1309.3,400.1 L1308.7,399.0 L1309.3,398.3 L1310.0,398.1Z M1293.9,415.3 L1294.8,415.9 L1293.7,419.8 L1292.7,421.9 L1291.3,419.8 L1292.4,416.6Z M1270.7,426.9 L1273.0,425.4 L1274.8,426.3 L1273.9,427.8 L1272.1,429.0 L1270.7,428.4Z M1218.7,444.5 L1220.8,446.9 L1222.1,449.1 L1221.7,450.7 L1219.7,451.5 L1218.7,451.1 L1218.3,449.6 L1218.3,446.9Z M1292.2,428.4 L1295.1,428.4 L1295.7,431.1 L1294.0,433.5 L1294.2,435.9 L1296.0,436.5 L1298.4,437.0 L1298.6,439.4 L1297.1,438.7 L1295.9,437.0 L1293.0,437.6 L1292.2,436.1 L1291.1,435.0 L1291.1,432.7 L1291.7,430.3Z M1294.6,449.8 L1296.2,447.6 L1297.5,446.7 L1299.5,446.9 L1301.1,444.5 L1302.7,446.9 L1303.1,449.1 L1302.4,450.9 L1301.5,452.1 L1300.9,452.1 L1300.2,451.6 L1298.4,450.5 L1298.2,448.7 L1296.6,448.7Z M1298.9,439.6 L1300.7,439.6 L1301.5,442.0 L1300.2,442.3 L1299.3,441.4Z M1296.4,442.5 L1297.5,442.7 L1296.9,445.8 L1295.7,445.1Z M1294.8,440.9 L1296.6,441.4 L1295.7,443.3 L1294.6,442.5Z M1286.1,447.1 L1290.2,443.1 L1290.6,441.8 L1289.0,443.6 L1285.7,446.3Z M1291.9,437.9 L1293.7,437.9 L1293.5,440.0 L1292.6,439.4Z M1298.2,442.0 L1298.9,443.1 L1297.8,444.9 L1297.5,443.4Z M1272.3,458.6 L1274.8,459.5 L1275.4,457.7 L1278.5,456.5 L1280.3,454.1 L1281.9,453.2 L1283.9,451.4 L1285.2,449.8 L1287.0,450.9 L1289.7,452.9 L1287.7,454.5 L1286.8,455.9 L1287.5,458.3 L1289.1,460.4 L1287.2,460.8 L1286.6,463.1 L1284.8,464.9 L1284.4,467.6 L1283.9,468.7 L1281.4,469.6 L1278.5,467.9 L1276.1,468.1 L1273.4,467.4 L1273.0,464.9 L1271.6,463.1 L1271.2,460.4Z M1246.4,452.1 L1250.4,452.9 L1251.8,454.8 L1254.5,456.8 L1256.3,458.6 L1258.5,460.0 L1261.2,462.2 L1261.8,464.0 L1263.1,465.6 L1265.8,467.6 L1265.6,470.3 L1265.4,472.6 L1263.1,472.6 L1262.0,471.2 L1259.1,469.4 L1256.7,466.7 L1255.4,464.0 L1253.3,461.7 L1252.5,459.1 L1249.8,456.5 L1247.7,454.5Z M1264.5,474.4 L1265.8,472.8 L1269.9,473.5 L1270.5,474.2 L1273.7,474.6 L1274.8,473.7 L1277.9,474.8 L1281.0,476.1 L1281.2,477.9 L1278.5,477.1 L1273.9,476.8 L1270.3,476.1 L1266.7,475.3Z M1282.1,477.0 L1285.7,476.8 L1289.3,477.1 L1293.0,477.3 L1296.6,477.0 L1296.6,477.9 L1291.1,478.2 L1285.7,478.4 L1282.4,478.1Z M1297.5,480.8 L1298.4,479.0 L1304.2,477.3 L1303.8,477.9 L1300.2,479.9Z M1289.3,479.1 L1292.6,480.1 L1291.1,480.8 L1289.3,479.9Z M1290.1,472.1 L1290.2,468.5 L1289.0,467.2 L1289.9,464.4 L1290.8,462.2 L1291.1,460.6 L1292.6,459.9 L1296.6,460.6 L1300.6,459.3 L1299.3,461.5 L1296.6,461.5 L1293.0,461.5 L1291.3,463.6 L1293.0,464.7 L1297.1,463.8 L1294.8,465.6 L1293.9,465.6 L1295.7,468.1 L1296.2,470.1 L1295.1,470.8 L1293.9,470.6 L1293.0,467.9 L1291.7,467.4 L1291.9,470.8 L1291.7,472.3Z M1304.7,460.4 L1305.6,458.4 L1306.9,459.5 L1306.0,461.3 L1306.5,463.1 L1305.3,462.7 L1304.9,461.3Z M1305.6,467.6 L1309.3,467.4 L1310.7,468.5 L1308.4,468.5 L1305.6,468.3Z M1302.0,467.9 L1304.2,468.1 L1303.8,469.0 L1302.0,468.7Z M1311.1,463.6 L1313.8,462.9 L1316.5,463.6 L1317.1,466.7 L1318.3,468.1 L1321.0,466.1 L1323.8,465.1 L1328.6,466.9 L1331.9,467.9 L1335.5,469.0 L1337.9,471.5 L1340.1,473.0 L1341.5,474.2 L1342.8,477.5 L1344.6,479.5 L1346.9,480.8 L1343.7,480.6 L1340.4,479.3 L1338.3,476.8 L1335.5,476.1 L1333.7,477.1 L1332.8,478.8 L1329.2,478.6 L1326.5,476.8 L1323.8,477.3 L1323.2,475.2 L1325.0,475.2 L1323.8,472.1 L1320.1,470.5 L1316.5,469.2 L1314.5,469.6 L1312.9,467.4 L1315.6,466.7 L1312.9,465.8 L1310.9,464.7Z M1342.4,472.4 L1345.5,472.1 L1348.2,469.7 L1349.7,469.9 L1348.8,472.1 L1345.5,473.5 L1342.8,473.2Z M1346.9,467.0 L1350.0,468.5 L1350.9,470.3 L1349.8,469.0Z M1353.8,471.9 L1356.2,474.4 L1355.1,474.2Z M1362.7,476.6 L1365.1,478.4 L1364.2,479.3Z M1375.4,489.4 L1376.7,490.5 L1375.9,490.7Z M1370.9,499.0 L1375.4,502.3 L1376.1,503.3 L1371.8,500.8Z M1395.0,493.9 L1397.3,494.3 L1396.8,495.4 L1395.0,495.2Z M1355.5,356.9 L1356.9,356.3 L1356.2,358.3Z M1348.2,367.0 L1349.7,365.9 L1348.8,367.7Z M1341.0,371.6 L1343.3,370.3 L1341.5,372.1Z M1337.3,374.4 L1339.2,372.9 L1338.3,374.6Z M1305.1,413.7 L1306.2,412.3 L1305.6,413.5Z M1302.4,398.8 L1303.6,398.3 L1303.5,398.9Z M1241.7,440.5 L1242.4,437.8 L1242.0,441.2Z M1170.5,439.4 L1172.5,439.4 L1171.5,440.0Z M1280.4,502.3 L1283.0,500.6 L1285.2,500.0 L1289.3,498.8 L1293.9,496.9 L1295.1,495.0 L1296.4,492.2 L1297.7,493.7 L1299.3,491.7 L1301.1,488.5 L1303.6,487.2 L1305.6,489.1 L1308.4,489.2 L1308.9,486.6 L1310.7,484.6 L1313.8,483.0 L1318.3,484.3 L1321.6,484.3 L1320.1,487.2 L1319.2,489.4 L1322.9,491.7 L1326.5,494.1 L1328.8,494.1 L1330.1,490.4 L1330.5,486.6 L1331.0,483.0 L1331.9,481.5 L1333.7,484.8 L1334.3,488.3 L1337.0,490.4 L1338.3,494.1 L1339.7,497.3 L1343.3,499.8 L1344.2,501.1 L1346.9,504.2 L1347.9,506.6 L1351.3,509.5 L1351.1,513.3 L1352.0,515.9 L1350.9,519.7 L1350.0,523.5 L1347.9,526.7 L1345.9,531.5 L1345.3,534.9 L1341.9,535.8 L1339.0,538.5 L1336.4,536.9 L1333.7,537.8 L1329.2,536.2 L1327.0,533.7 L1326.8,532.6 L1324.7,530.6 L1324.7,529.1 L1323.4,529.8 L1321.9,529.8 L1323.4,525.0 L1323.4,523.9 L1320.1,528.9 L1320.0,529.1 L1318.3,526.5 L1316.9,524.6 L1312.9,522.9 L1311.1,521.8 L1307.4,522.2 L1302.0,523.5 L1298.4,525.0 L1297.5,526.9 L1291.1,526.9 L1287.5,529.3 L1283.9,529.0 L1282.3,527.8 L1282.1,526.3 L1283.3,522.9 L1282.1,519.7 L1281.4,516.2 L1280.3,513.6 L1278.8,510.7 L1279.2,509.5 L1279.4,507.6 L1279.7,504.6Z M1335.9,542.3 L1339.2,543.2 L1342.4,542.7 L1342.4,545.4 L1341.7,548.3 L1339.7,549.3 L1337.3,547.6 L1336.8,545.4Z M1386.6,528.0 L1389.5,530.4 L1390.4,533.3 L1392.6,535.1 L1396.2,535.1 L1397.2,535.3 L1396.1,538.5 L1394.4,539.7 L1393.2,543.0 L1391.3,544.4 L1390.4,543.7 L1390.8,540.6 L1388.6,539.0 L1390.1,537.6 L1390.4,535.6 L1389.7,532.6 L1387.2,529.3Z M1386.6,541.8 L1389.0,543.0 L1389.5,544.7 L1387.2,547.8 L1386.8,549.0 L1387.4,549.8 L1384.1,551.0 L1383.0,555.1 L1380.8,556.9 L1378.8,556.9 L1377.2,555.9 L1375.4,554.8 L1377.2,551.5 L1379.0,550.0 L1381.7,547.8 L1383.9,545.4 L1385.4,543.0Z M1377.6,557.4 L1378.5,557.7 L1377.8,558.5Z M1321.0,487.0 L1321.9,487.6 L1321.2,488.1Z M1309.6,482.8 L1311.8,482.8 L1310.3,483.5Z M1321.9,530.9 L1323.9,531.1 L1322.9,531.5Z" fill="#f5f5f5" fill-rule="evenodd" stroke="#dadada" stroke-width="1.5" stroke-linejoin="round"/>
<path d="M906.6,435.9 L907.0,434.6 L907.5,433.1 L909.9,432.9 L909.7,429.7 L912.1,429.7 L912.1,433.3 L913.7,433.7 M912.1,429.7 L913.7,428.6 M911.9,436.1 L913.3,437.0 L914.6,437.0 L914.8,438.3 M911.9,436.1 L912.1,435.0 L913.7,433.7 M916.1,438.9 L917.9,437.2 L919.7,435.7 L922.9,435.0 M918.4,442.2 L920.2,442.3 L922.0,442.5 M923.5,447.4 L923.7,446.0 L924.0,444.9 M944.5,440.9 L942.3,443.3 L942.5,446.9 L946.9,449.6 L951.4,451.1 L952.3,458.6 L947.2,459.1 L947.0,469.7 M965.0,446.9 L963.2,449.6 L962.6,451.6 L963.7,452.9 L957.7,455.0 L956.8,457.7 L958.8,458.3 L955.0,460.8 L952.3,458.6 M963.7,452.9 L965.2,454.1 L965.3,458.6 L968.6,459.5 L971.3,458.8 L974.9,458.1 L978.2,458.1 L980.0,455.0 M970.1,451.4 L969.5,455.0 L971.3,458.8 M975.9,452.0 L975.1,455.0 L974.9,458.1 M930.7,459.7 L934.2,461.7 L937.3,462.2 L937.4,464.0 L941.4,466.3 L946.7,467.0 L947.0,469.7 M928.2,468.3 L928.7,470.3 L931.1,471.0 L932.4,467.9 L936.9,464.9 L937.4,464.0 M947.0,469.7 L941.6,471.5 L940.0,475.3 L942.3,479.3 L946.0,479.3 L945.8,482.1 L947.8,482.1 M947.8,482.1 L949.2,485.0 L948.7,488.5 L947.8,491.7 L947.8,494.1 L946.1,495.6 M947.8,482.1 L954.1,480.1 L955.4,483.0 L961.4,486.3 L964.4,487.2 L964.6,491.8 L968.1,491.8 L969.3,495.0 L968.4,498.5 M947.8,494.1 L949.2,497.9 L950.1,501.7 L951.9,504.2 M951.9,504.2 L955.9,502.9 L960.1,503.1 L961.7,498.8 L968.4,498.5 M960.1,503.1 L965.0,506.6 L969.3,509.3 L967.5,513.1 L972.2,513.1 L974.8,509.7 L975.3,506.6 L972.8,503.3 L968.8,502.9 L968.4,498.5 M974.8,509.7 L976.2,512.7 L972.6,515.2 L969.3,519.1 L968.2,525.0 L968.2,527.1 M969.3,519.1 L973.0,520.5 L976.8,526.5 M951.9,504.2 L949.6,507.6 L949.6,512.5 L946.9,518.7 L946.9,525.0 L946.0,531.5 L944.7,538.3 L943.6,545.4 L943.8,552.8 L942.7,560.6 L941.1,567.5 L943.2,571.8 L949.8,572.7 M949.4,573.9 L949.4,580.5 M1050.1,410.4 L1057.9,410.4 L1057.9,408.4 L1064.6,405.7 L1067.4,402.6 L1071.5,400.9 L1070.4,396.2 L1069.9,394.9 M1042.8,423.6 L1050.1,423.1 L1050.1,419.8 L1052.0,419.0 L1052.0,413.9 L1057.9,413.9 L1057.9,411.3 M1057.9,411.3 L1065.0,415.9 L1075.9,423.5 L1079.7,427.5 L1081.3,427.3 L1084.6,426.3 L1095.3,418.8 L1090.9,413.3 L1091.6,405.3 L1090.0,401.3 L1087.3,397.7 L1088.7,395.1 L1089.3,390.9 M1043.8,433.1 L1047.4,432.0 L1051.6,435.3 L1052.9,433.9 L1063.7,434.0 L1063.6,432.2 L1061.9,415.9 L1065.0,415.9 M1051.6,435.3 L1053.0,439.8 L1048.9,439.4 L1043.4,439.8 M1043.3,437.9 L1046.5,437.2 L1048.7,437.9 M1046.5,442.3 L1048.9,441.1 L1048.9,439.4 M1053.0,439.8 L1056.8,439.6 L1059.2,443.8 L1058.3,448.5 L1056.7,448.9 L1055.0,446.9 L1052.9,449.8 M1049.6,445.8 L1053.4,444.2 L1055.0,446.9 M1060.1,454.3 L1058.3,448.5 M1059.2,443.8 L1063.7,443.4 L1068.6,445.1 L1068.8,453.0 M1063.7,443.4 L1064.1,440.7 L1065.7,439.2 L1068.3,437.4 L1072.4,434.8 L1074.1,435.2 L1075.5,438.7 L1078.0,440.0 L1080.2,441.1 M1068.6,445.1 L1068.4,442.3 L1073.7,442.2 L1075.3,442.3 M1075.9,451.2 L1074.6,448.7 L1074.4,444.2 L1075.3,442.3 L1078.0,440.0 M1076.6,451.1 L1076.8,446.0 L1075.3,442.3 M1078.6,450.7 L1078.8,446.0 L1080.2,441.1 L1081.1,437.8 L1086.4,438.5 L1091.8,438.1 L1098.2,437.4 L1099.4,439.6 M1089.3,453.6 L1090.6,450.5 L1094.5,450.3 L1096.9,446.5 L1098.7,442.3 L1099.4,439.6 L1100.2,438.9 M1074.1,435.2 L1079.7,434.2 L1081.3,431.4 L1081.3,427.3 M1095.3,418.8 L1100.9,419.8 L1117.2,426.5 L1117.2,433.7 L1115.2,433.9 L1113.6,439.2 L1115.2,442.3 L1114.5,442.5 M1100.9,419.8 L1102.7,424.8 L1101.8,431.6 L1098.3,435.9 L1098.2,437.4 M1090.9,405.3 L1092.4,403.9 L1094.5,400.7 L1094.5,399.2 M1119.0,402.2 L1119.0,421.7 L1117.2,426.5 M1119.0,421.7 L1140.6,421.7 M1100.2,438.9 L1100.9,444.2 L1098.9,444.3 L1101.8,448.7 L1100.0,453.2 L1103.1,458.3 L1097.8,458.3 L1094.2,458.3 L1091.5,458.1 M1101.8,448.7 L1107.4,447.8 L1114.5,442.5 L1116.3,446.3 L1123.3,453.2 L1119.5,452.9 L1114.3,454.8 L1109.0,453.0 L1107.4,455.9 L1103.1,458.3 M1090.6,460.4 L1094.2,460.4 L1094.2,458.3 M1097.8,458.3 L1099.8,463.1 L1099.8,465.6 L1097.3,466.5 L1093.8,469.2 M1107.4,455.9 L1105.8,463.1 L1103.1,466.1 L1102.7,469.4 L1099.8,471.0 L1097.3,470.5 L1095.8,472.8 M1095.8,472.8 L1103.8,472.8 L1104.5,475.3 L1109.0,474.8 L1113.2,475.3 L1113.2,482.4 L1117.2,482.1 L1117.2,485.7 L1113.6,485.7 L1113.6,491.7 L1116.3,494.3 L1112.5,495.0 L1107.2,493.9 L1099.1,493.9 L1095.1,493.5 M1123.3,453.2 L1129.7,455.9 L1130.2,458.3 L1127.3,462.2 L1127.3,464.7 L1126.2,467.0 L1126.6,470.1 L1129.0,477.0 L1126.1,477.5 L1125.2,479.0 L1125.5,483.7 L1127.7,486.5 L1123.0,483.2 L1119.5,482.4 L1117.2,482.1 M1117.2,485.7 L1124.4,485.7 L1128.4,489.4 L1128.8,490.5 L1126.1,491.1 L1122.6,494.9 L1119.5,494.7 L1116.3,494.3 M1128.4,489.4 L1133.5,487.6 L1133.0,486.6 L1134.4,481.7 L1133.5,479.3 L1131.7,478.6 L1129.0,477.0 M1133.5,479.3 L1136.2,483.0 L1136.2,487.6 L1138.8,491.5 L1137.5,493.2 L1136.0,491.3 L1133.5,487.6 M1136.2,483.0 L1141.7,483.3 L1146.9,481.1 M1128.8,490.5 L1133.3,492.6 L1133.0,496.9 L1132.6,501.3 L1130.4,503.5 L1127.0,503.1 L1124.4,501.9 L1123.9,499.8 L1119.5,494.7 M1130.4,503.5 L1131.5,507.6 L1131.7,512.1 L1133.1,512.1 M1127.0,503.1 L1122.6,506.0 L1119.9,509.9 L1115.4,509.1 L1111.4,512.3 L1109.9,508.2 L1109.9,502.7 L1111.8,502.7 L1111.8,495.6 M1109.9,508.2 L1109.9,515.4 L1104.5,514.8 L1103.6,515.8 M1122.6,517.8 L1124.8,516.0 L1127.0,517.8 L1124.8,519.9 M1130.2,458.3 L1135.3,454.7 L1138.8,453.9 L1135.3,460.4 L1135.3,464.0 L1141.8,467.6 L1144.7,470.6 M1127.3,464.7 L1129.0,464.0 L1135.1,464.0 M1126.2,467.0 L1129.0,466.5 L1129.5,468.1 L1126.6,470.1 M1117.2,433.7 L1115.2,433.9 M1116.3,446.3 L1118.1,446.5 L1120.8,444.2 L1124.4,445.4 L1129.9,444.5 L1132.4,441.1 L1133.9,440.1 L1133.7,442.9 L1135.5,445.1 L1133.5,448.2 L1137.1,452.5 L1138.8,453.9 M1135.5,445.1 L1137.1,440.9 L1139.3,439.4 L1139.8,436.3 L1142.4,435.2 L1147.6,436.6 L1150.5,439.6 M1139.8,436.3 L1140.7,431.2 L1143.6,429.4 M1138.8,453.9 L1142.7,455.7 L1149.6,455.2 L1151.6,453.6 L1155.2,453.2 L1160.7,447.8 L1153.4,446.0 L1151.6,442.3 L1150.5,439.6 M1149.6,455.2 L1148.0,457.2 L1148.0,463.8 L1149.1,465.3 M1057.6,379.3 L1058.8,379.0 L1061.7,379.3 L1061.2,381.4 L1061.0,384.5 L1060.1,384.7 L1061.0,387.9 L1060.3,390.2 M1070.4,375.6 L1075.0,377.3 L1079.5,378.0 M1078.2,355.2 L1081.3,358.3 L1084.2,359.7 L1085.3,359.7 L1088.6,361.1 L1087.5,364.8 M1079.9,354.3 L1082.8,354.0 L1084.6,356.0 L1085.3,357.5 L1084.8,358.0 L1084.2,359.7 M1084.6,356.0 L1084.6,353.2 L1086.4,352.0 L1086.7,348.8 M1089.5,343.9 L1091.1,344.2 M1087.5,364.8 L1084.6,368.5 L1086.4,369.3 L1089.1,369.0 L1092.7,366.7 L1091.1,365.1 L1087.5,364.8 M1087.3,374.6 L1086.2,371.3 L1086.4,369.3 M1091.1,365.1 L1097.3,365.1 L1098.5,361.6 L1100.9,361.1 L1104.5,362.2 L1103.6,366.4 L1102.9,367.2 L1098.5,367.7 L1095.8,366.4 L1092.7,366.7 M1098.5,361.6 L1095.6,357.5 L1099.6,355.5 L1100.9,355.5 L1100.2,349.7 L1099.4,346.9 M1100.9,355.5 L1104.3,357.7 L1107.9,359.7 L1104.5,362.2 M1107.9,359.7 L1114.7,360.8 L1113.9,362.7 L1109.9,363.2 L1107.8,364.3 L1104.9,363.8 M1114.7,360.8 L1117.2,356.6 L1116.5,350.8 L1117.0,346.6 L1115.0,345.4 L1109.6,345.4 M1111.9,340.1 L1119.0,339.4 L1121.9,341.3 L1124.8,339.7 M1117.7,334.1 L1123.3,335.5 L1124.8,329.0 M1123.3,335.5 L1124.8,339.7 M1116.5,354.0 L1122.6,353.8 L1129.1,354.6 L1131.3,352.3 L1133.0,348.5 L1129.7,341.7 L1124.8,339.7 M1121.9,341.3 L1120.4,346.0 L1116.3,346.6 M1131.3,352.3 L1136.0,354.9 L1138.0,357.2 L1142.6,358.6 L1146.4,359.4 L1145.6,364.3 L1142.9,366.2 M1113.9,362.7 L1118.8,364.6 L1121.9,363.0 L1124.8,370.3 L1127.5,371.1 M1121.9,363.0 L1126.4,364.0 L1128.2,368.0 L1124.8,370.3 M1113.9,363.8 L1112.1,368.0 L1110.5,368.8 L1112.5,372.1 L1114.8,372.9 L1114.8,373.6 L1119.0,374.9 L1122.6,373.9 L1125.5,374.9 M1102.9,367.2 L1103.8,368.0 L1107.8,369.3 L1110.5,368.8 M1098.3,370.3 L1101.4,370.3 L1102.1,368.5 L1103.8,368.0 M1107.8,369.3 L1108.1,371.8 L1108.9,373.4 L1108.5,375.4 L1107.2,377.8 M1102.3,371.1 L1104.5,371.1 L1108.1,371.8 M1102.3,371.1 L1103.1,373.6 L1105.6,376.6 M1114.8,373.6 L1114.3,378.3 L1115.2,380.7 L1118.1,380.2 L1121.4,379.7 L1124.4,379.0 M1121.4,379.7 L1120.8,381.7 M1108.9,379.3 L1110.8,378.5 L1111.0,381.4 L1109.9,384.5 M1111.0,381.4 L1111.8,381.7 L1115.2,380.7 M1110.8,378.5 L1114.3,378.3 M1108.5,375.4 L1110.5,376.6 L1110.8,378.5 M1094.0,330.7 L1095.8,326.8 L1096.4,323.2 L1095.8,320.6 L1095.4,314.3 L1099.1,309.4 L1100.0,302.6 L1102.7,296.2 L1106.3,291.4 L1110.5,288.7 M1110.5,288.7 L1116.6,294.3 L1116.3,298.5 L1117.6,303.9 M1110.8,288.4 L1115.4,290.4 L1120.3,289.4 L1120.8,284.3 L1125.3,283.3 L1126.2,288.4 L1125.9,289.4 L1128.1,295.2 L1126.2,299.0 L1128.2,304.3 L1127.5,308.2 L1131.0,315.9 L1127.7,322.4 L1124.1,325.0 M1126.2,288.4 L1129.5,284.8 M1060.3,343.5 L1058.8,345.1 L1060.5,346.3 L1062.3,346.3 M1162.7,368.0 L1158.0,362.4 L1158.9,358.0 L1161.9,356.6 L1167.0,354.0 L1172.5,355.5 L1179.7,355.5 L1184.2,356.3 L1184.2,346.6 L1191.5,345.1 L1198.5,342.6 L1202.0,342.6 L1206.9,346.6 L1212.3,346.6 L1214.9,348.8 L1218.7,356.0 L1224.1,355.5 L1228.1,359.4 L1231.9,360.8 M1231.9,360.8 L1235.9,357.7 L1240.4,356.3 L1245.8,358.3 L1250.4,358.9 L1251.8,352.6 L1258.9,354.6 L1258.5,356.9 L1266.7,357.5 L1270.3,360.0 L1273.9,360.5 L1278.5,358.9 L1281.2,357.7 L1285.2,358.9 L1289.7,357.5 L1292.6,352.6 L1291.1,350.2 L1297.5,348.2 L1302.0,350.2 L1304.7,358.9 L1310.2,361.3 L1311.1,364.6 L1317.8,363.0 L1316.5,370.3 L1311.4,372.1 L1311.1,376.8 L1310.3,378.0 M1232.8,360.8 L1238.4,371.1 L1246.6,373.6 L1248.6,377.3 L1263.1,379.5 L1276.5,374.9 L1279.5,372.1 L1284.8,368.3 L1290.6,367.5 L1283.2,364.0 L1285.2,358.9 M1231.9,360.8 L1228.6,366.4 L1223.2,371.1 L1219.0,378.5 M1219.0,378.5 L1207.8,376.1 L1202.4,378.3 L1196.9,381.9 L1194.6,380.9 L1193.3,376.8 L1184.2,373.1 L1179.7,370.1 L1175.2,371.6 L1175.2,380.7 L1168.8,379.7 M1175.2,380.7 L1179.7,377.3 L1182.4,378.5 L1185.9,381.2 L1187.0,383.8 L1190.6,386.3 L1194.2,389.8 M1171.4,390.0 L1177.0,387.9 L1181.5,389.8 L1184.6,391.5 L1184.6,393.8 L1190.6,392.2 L1194.2,389.8 L1196.9,390.7 L1203.3,391.3 L1209.4,390.2 M1209.4,390.2 L1207.1,384.9 L1213.0,381.4 L1219.0,378.5 M1202.2,378.3 L1202.4,383.3 L1207.1,384.9 M1196.9,381.9 L1199.3,383.3 L1201.4,384.7 L1196.6,385.6 L1196.9,390.7 M1184.6,393.8 L1183.5,398.1 L1183.9,402.6 L1185.7,403.6 L1184.1,405.9 L1188.2,411.5 L1185.3,415.5 M1184.1,405.9 L1193.8,405.9 L1194.0,403.9 L1199.3,401.8 L1200.5,399.0 L1202.5,397.0 L1203.4,392.9 L1209.4,390.2 M1197.3,418.4 L1202.4,417.0 L1200.5,410.0 L1206.0,405.9 L1208.7,403.6 L1208.7,399.8 L1214.7,394.0 L1209.4,390.2 M1214.7,394.0 L1216.7,396.6 L1216.8,400.5 L1216.5,403.2 L1220.5,405.3 L1222.3,405.3 L1225.9,408.0 L1229.5,409.8 L1233.3,410.0 L1234.8,411.3 L1236.2,409.4 L1239.9,410.2 L1244.0,407.8 L1250.0,409.4 M1220.5,405.3 L1218.8,408.2 L1224.6,411.1 L1227.7,412.3 L1233.3,412.9 L1233.3,410.0 M1234.8,411.3 L1236.4,412.5 L1240.4,412.1 L1239.9,410.2 M1250.0,409.4 L1246.2,413.9 L1245.1,416.4 L1242.8,417.8 L1242.6,421.3 L1241.5,423.1 M1233.3,412.9 L1234.6,413.3 L1236.4,415.3 L1241.1,415.9 L1239.0,418.4 L1240.9,419.8 L1240.9,423.8 M1233.3,413.1 L1233.2,416.4 L1234.6,419.4 L1235.0,422.1 M1250.0,409.4 L1252.5,410.6 L1252.5,414.1 L1250.4,417.8 L1253.1,421.7 L1257.1,422.5 L1255.1,424.8 L1251.3,426.1 L1250.7,428.4 L1252.9,432.4 L1251.6,434.8 L1253.5,439.4 L1254.4,441.4 L1252.5,443.8 M1257.1,422.5 L1258.7,420.9 L1264.5,419.2 L1266.9,420.0 L1269.2,422.7 M1258.7,420.9 L1262.1,424.8 L1263.8,426.9 L1264.9,429.0 L1268.7,435.0 L1268.5,435.9 L1268.5,440.0 L1265.6,441.1 L1265.8,442.3 L1263.1,443.4 M1255.1,424.8 L1255.8,426.5 L1257.1,426.5 L1256.7,429.9 L1258.7,429.0 L1261.1,428.6 L1263.4,430.3 L1265.0,434.2 L1265.0,436.3 L1268.5,435.9 M1265.0,436.3 L1260.3,436.5 L1259.2,437.6 L1260.2,440.9 M1255.1,450.5 L1256.9,452.0 L1258.7,451.1 M1303.3,388.6 L1306.4,387.0 M1299.1,383.8 L1303.6,379.5 L1306.0,380.5 L1310.3,378.0 M1139.3,393.0 L1140.2,391.1 L1142.6,391.1 L1150.5,390.4 L1154.9,390.2 L1153.4,385.2 L1154.9,384.5 L1152.7,381.7 L1152.5,381.2 L1148.9,380.2 M1146.2,375.6 L1151.6,376.6 L1154.3,377.3 L1158.0,379.3 L1161.8,379.5 M1152.5,381.2 L1155.2,380.9 L1158.0,379.3 M1155.2,380.9 L1158.0,386.3 M1154.9,384.5 L1158.0,386.3 L1160.7,384.5 L1162.3,387.5 M1150.5,390.4 L1148.4,395.5 L1144.0,398.6 L1138.9,400.5 L1138.6,400.1 M1144.0,398.6 L1144.7,401.3 L1140.7,402.6 L1142.6,404.7 L1141.7,405.7 L1138.9,407.4 L1137.1,407.0 M1144.7,401.3 L1149.8,403.4 L1154.7,407.4 L1158.0,407.6 L1160.1,408.8 L1161.4,408.8 M1158.0,407.6 L1159.6,405.7 L1160.7,405.7 M1154.9,390.2 L1157.1,393.3 L1156.0,397.3 L1160.5,402.0 L1161.6,405.7 M1137.1,406.8 L1138.0,402.6 L1138.2,400.1 M1137.3,399.2 L1138.6,398.8 L1139.8,396.2 L1138.9,396.0 M1151.1,432.4 L1152.0,430.5 L1154.2,430.5 L1158.5,431.2 L1161.0,429.0 L1167.9,427.5 L1173.4,425.6 L1174.6,421.7 L1173.7,420.4 L1169.0,420.0 L1167.2,417.4 M1167.9,427.5 L1169.9,432.0 M1173.7,420.4 L1175.2,417.8 L1175.9,416.0 M1329.2,466.9 L1329.2,478.6 M1272.3,458.6 L1273.9,460.6 L1276.6,459.5 L1281.2,459.5 L1283.0,456.8 L1283.3,454.5 L1286.8,454.7 M1298.4,479.0 L1300.2,478.8 L1300.6,479.3" fill="none" stroke="#dadada" stroke-width="1.5" stroke-linejoin="round" stroke-linecap="round"/>
<path d="M818.2,285.6 L821.8,286.4 L825.5,289.2 L828.2,287.4 L830.9,286.4 L833.1,285.9 L836.3,284.3 L839.0,283.8 L841.8,281.1 L843.0,282.7 L846.3,286.9 L848.3,286.9 L847.7,283.0 L850.8,284.8 L854.4,285.4 L859.9,288.9 L864.4,289.4 L867.1,292.9 L865.3,294.8 L870.8,295.2 L876.2,294.3 L878.0,298.5 L878.9,294.3 L882.5,292.4 L887.1,294.3 L889.8,295.2 L894.3,294.8 L896.1,291.9 L897.9,293.8 L900.1,290.9 L899.7,287.4 L900.7,281.1 L899.7,276.8 L902.1,273.1 L905.2,276.8 L907.0,283.8 L907.9,286.4 L909.7,289.9 L910.6,292.4 L914.2,293.8 L916.1,297.1 L918.4,291.4 L918.8,286.4 L924.2,285.4 L926.0,289.9 L925.1,294.8 L926.4,298.5 L922.4,301.7 L919.7,302.1 L917.0,301.7 L917.9,306.1 L915.2,309.4 L912.4,311.5 L909.7,313.1 L907.0,316.3 L904.3,319.8 L902.5,325.0 L901.9,330.4 L905.2,331.4 L906.1,337.1 L910.6,337.1 L914.2,339.1 L918.8,342.0 L924.6,343.2 L924.8,349.7 L926.9,352.6 L927.8,354.6 L929.3,354.9 L930.6,353.2 L931.3,350.2 L930.6,346.6 L929.6,344.5 L933.3,341.3 L934.9,337.1 L931.5,331.4 L932.7,326.8 L932.0,323.9 L933.3,317.9 L936.9,318.6 L940.5,318.6 L943.6,321.7 L946.9,323.2 L947.8,327.5 L948.7,331.0 L951.4,332.8 L954.1,331.0 L955.9,327.2 L956.8,325.6 L958.6,330.4 L961.4,335.5 L962.3,338.8 L965.0,342.6 L968.6,344.2 L970.4,347.5 L972.6,349.7 L972.8,352.6 L970.4,354.3 L967.7,354.9 L965.0,357.5 L961.4,357.6 L956.8,357.5 L953.2,357.7 L951.4,360.2 L948.7,362.4 L946.0,365.4 L944.7,367.0 L946.9,366.4 L949.6,363.0 L953.2,360.8 L956.8,360.8 L957.4,361.6 L955.9,363.5 L953.6,363.8 L955.0,364.8 L956.3,366.4 L956.8,368.5 L958.6,369.3 L962.3,369.8 L965.0,369.0 L964.3,366.4 L963.2,370.8 L959.5,372.4 L956.8,374.4 L954.7,375.4 L953.7,374.1 L954.5,372.6 L956.8,370.8 L956.1,369.8 L954.1,371.1 L952.3,371.3 L951.5,370.8 L950.8,369.8 L950.8,366.2 L949.9,365.5 L948.9,365.9 L948.3,365.2 L946.9,367.2 L946.3,369.3 L945.4,370.6 L944.3,371.0 L944.1,371.6 L938.3,371.6 L937.3,372.0 L935.1,373.6 L932.4,374.2 L929.8,375.0 L929.1,375.8 L930.5,375.9 L930.5,376.8 L929.6,377.0 L926.9,377.4 L924.2,379.0 L923.1,378.8 L924.2,377.6 L924.4,376.6 L925.7,375.4 L925.8,371.1 L926.6,372.6 L928.7,372.1 L927.8,370.3 L926.0,369.0 L923.3,368.5 L920.8,367.7 L920.4,366.7 L919.7,364.0 L917.0,361.7 L913.3,362.2 L911.3,363.8 L907.9,363.5 L905.2,362.2 L902.3,361.9 L901.3,360.0 L901.2,361.1 L850.3,361.1 L850.5,360.5 L847.6,358.6 L845.4,356.6 L842.7,355.5 L842.1,352.6 L840.9,350.2 L839.0,347.8 L837.6,345.7 L838.1,343.5 L838.1,340.7 L838.0,340.1 L834.9,338.4 L834.2,336.5 L832.0,332.4 L830.9,330.7 L829.1,329.3 L828.2,327.5 L826.4,328.8 L824.6,330.4 L824.6,330.7 L821.7,326.8 L818.2,325.7Z M850.1,362.7 L846.8,361.3 L844.3,359.4 L841.2,356.6 L842.1,355.8 L846.3,357.5 L849.0,360.2Z M832.7,346.3 L835.1,346.6 L835.8,349.7 L834.5,352.0 L833.1,349.7Z M966.2,364.8 L967.7,362.4 L969.5,358.3 L970.8,354.6 L973.1,353.8 L972.2,356.9 L973.1,358.6 L975.9,359.7 L976.8,362.2 L978.2,364.8 L977.3,367.2 L974.9,366.7 L972.6,366.7 L970.4,364.8Z M957.0,358.6 L960.5,359.4 L961.7,360.8 L958.6,360.2Z M957.2,366.7 L959.7,367.7 L961.4,368.0 L960.3,369.0 L957.9,368.3Z M954.1,319.4 L949.6,317.5 L944.1,313.5 L940.5,309.4 L937.8,309.9 L933.3,310.3 L932.4,307.3 L938.7,305.2 L940.5,300.8 L942.3,295.2 L938.7,292.4 L934.2,287.4 L930.6,284.3 L925.1,284.3 L917.0,283.8 L911.5,278.4 L911.0,272.8 L913.3,263.7 L919.7,261.8 L926.9,262.4 L932.4,267.4 L937.8,271.0 L944.1,277.3 L949.6,282.2 L952.3,287.9 L952.8,292.9 L958.6,297.1 L962.3,300.8 L960.5,305.2 L957.7,307.3 L956.8,313.5 L956.5,317.9Z M862.6,288.9 L868.0,291.4 L874.4,290.9 L881.6,291.4 L888.9,289.4 L890.7,285.4 L888.0,281.1 L884.3,278.4 L883.4,269.8 L878.9,265.6 L874.4,267.4 L868.0,268.6 L860.8,267.4 L859.0,275.6 L863.5,276.8 L860.8,281.1 L867.1,282.2 L861.7,285.4Z M847.2,273.3 L850.5,277.9 L855.4,276.2 L859.0,271.6 L862.6,266.8 L864.4,263.7 L860.8,259.2 L853.5,257.2 L848.1,258.5 L848.1,264.3 L845.9,269.8Z M861.7,252.4 L868.0,257.2 L874.4,254.5 L881.6,253.8 L882.5,248.1 L876.2,242.8 L868.9,244.3 L862.6,242.8Z M888.9,268.0 L892.5,273.3 L897.0,274.5 L898.8,268.6 L897.0,262.4 L891.6,261.1Z M900.7,271.6 L904.3,272.8 L909.7,268.0 L909.7,261.8 L904.3,259.8 L900.7,262.4Z M907.0,256.5 L914.2,257.2 L925.1,257.2 L929.6,254.5 L927.8,248.8 L920.6,248.1 L912.4,244.3 L906.1,242.8 L900.7,239.7 L898.8,250.2Z M912.4,243.6 L919.7,243.6 L928.7,245.1 L932.4,239.7 L936.9,228.9 L937.8,219.7 L946.9,211.8 L955.9,200.9 L961.4,184.8 L950.5,175.0 L937.8,173.5 L925.1,176.4 L914.2,184.8 L907.9,193.8 L916.1,203.1 L917.9,213.8 L913.3,226.2 L914.2,234.8Z M901.6,219.7 L908.8,228.0 L914.2,224.4 L915.2,211.8 L907.9,200.9 L900.7,206.5Z M851.7,246.6 L858.1,247.3 L863.5,239.7 L860.8,234.8 L853.5,238.9Z M882.5,230.6 L890.7,232.3 L894.3,225.3 L889.8,218.7 L882.5,221.6Z M888.0,250.2 L895.2,253.8 L897.0,248.1 L893.4,242.0 L888.0,244.3Z M898.8,253.8 L904.3,255.8 L904.3,250.2 L900.7,249.5Z M896.1,230.6 L901.6,232.3 L902.5,225.3 L897.9,223.5Z M893.4,288.9 L897.0,290.9 L900.7,288.9 L899.7,284.8 L895.2,284.3Z M916.1,306.5 L919.7,304.3 L923.3,307.3 L926.9,311.5 L926.0,313.9 L920.6,314.7 L917.0,312.3Z M923.3,315.9 L925.5,316.3 L925.3,318.6 L923.3,318.3Z M928.2,318.6 L930.0,318.6 L929.6,320.9 L928.2,320.6Z M933.6,293.8 L936.9,293.3 L937.3,296.7 L934.5,297.1Z M927.8,265.6 L933.3,267.4 L936.0,266.2 L932.4,262.4 L927.8,262.4Z M928.7,338.8 L930.6,339.1 L930.0,341.0 L928.7,340.4Z M873.5,228.0 L876.2,230.6 L876.2,225.3 L873.5,224.4Z M865.3,232.3 L872.6,234.8 L873.5,229.7 L868.0,227.1Z" fill="#faeadc" stroke="#ecd6c4" stroke-width="1.5" stroke-linejoin="round"/>
<path d="M847.7,362.7 L850.3,361.1 L901.2,361.1 L901.3,360.0 L902.3,361.9 L905.2,362.2 L907.9,363.5 L911.3,363.8 L909.2,365.6 L906.8,367.2 L909.2,366.7 L912.1,366.7 L913.9,365.2 L914.8,367.0 L917.0,367.7 L919.7,367.1 L920.8,367.7 L920.2,369.6 L922.6,371.1 L922.8,373.4 L921.7,374.9 L923.5,374.0 L924.4,376.6 L923.3,378.3 L922.6,379.7 L924.2,380.5 L926.0,380.0 L927.8,379.0 L930.6,377.3 L930.5,375.9 L933.3,375.8 L935.6,375.2 L935.4,373.9 L937.8,371.8 L938.3,371.6 L944.1,371.6 L944.3,371.0 L945.4,370.6 L946.3,369.3 L946.9,367.2 L948.3,365.2 L948.9,365.9 L949.9,365.5 L950.8,366.2 L950.8,369.8 L951.5,370.8 L952.3,372.1 L950.5,373.1 L948.7,373.9 L946.9,374.6 L945.6,376.3 L945.4,377.3 L945.2,378.3 L945.8,379.1 L946.9,379.5 L947.0,379.9 L946.0,380.1 L944.3,380.3 L943.2,380.7 L941.4,381.1 L940.2,381.7 L943.2,381.4 L939.8,382.5 L939.6,382.8 L939.4,384.2 L938.0,386.2 L936.9,385.2 L937.6,387.0 L937.1,388.6 L936.2,390.2 L935.4,390.7 L936.0,390.9 L936.4,392.9 L936.9,394.5 L935.1,395.7 L932.5,397.5 L930.6,398.3 L928.9,400.1 L927.1,401.5 L926.6,402.8 L926.2,404.3 L926.4,405.9 L927.1,407.8 L927.8,409.0 L928.6,412.1 L928.6,414.3 L928.0,415.5 L926.7,415.7 L925.7,414.1 L925.1,412.7 L923.8,410.6 L923.8,408.6 L922.8,406.8 L921.5,405.5 L919.7,406.6 L918.4,405.5 L917.0,404.9 L915.0,405.1 L913.5,405.1 L912.1,405.1 L911.3,405.4 L911.7,407.2 L912.3,407.8 L910.3,407.6 L908.3,407.2 L906.5,406.7 L903.7,406.4 L902.1,407.0 L899.9,408.6 L897.9,410.0 L897.2,411.9 L897.7,414.0 L895.8,413.7 L894.1,413.1 L893.4,410.8 L892.0,409.2 L890.7,407.0 L888.3,406.0 L887.6,406.4 L886.7,407.8 L884.3,406.5 L883.6,404.5 L880.7,402.1 L877.6,402.0 L877.6,403.0 L872.4,403.0 L865.7,400.5 L865.9,400.0 L861.5,400.4 L861.2,399.4 L859.2,397.8 L859.0,397.2 L857.7,396.9 L855.4,396.3 L855.1,394.8 L852.8,391.5 L851.9,390.2 L851.7,388.8 L850.8,388.4 L849.5,386.1 L848.4,382.8 L848.8,381.4 L848.6,379.0 L848.0,377.0 L848.8,374.9 L849.0,372.1 L849.1,368.5 L848.8,367.2 L847.7,364.0Z M838.1,343.5 L838.1,340.7 L838.0,340.1 L834.9,338.4 L834.2,336.5 L832.0,332.4 L830.9,330.7 L829.1,329.3 L828.2,327.5 L826.4,328.8 L824.6,330.4 L824.6,330.7 L821.7,326.8 L818.2,325.7 L818.2,285.6 L814.6,283.3 L811.0,283.8 L806.4,282.7 L802.8,281.1 L799.2,281.4 L796.5,279.0 L792.8,277.9 L789.9,276.5 L787.4,279.2 L783.8,280.1 L780.3,282.2 L778.3,284.8 L776.9,287.9 L772.5,289.4 L771.5,292.1 L775.6,295.2 L777.1,298.0 L780.2,298.5 L780.5,301.7 L777.1,302.6 L775.8,300.6 L772.0,302.1 L769.1,304.8 L772.2,309.0 L775.6,309.4 L778.7,309.9 L781.1,309.4 L782.1,309.4 L782.3,311.9 L781.1,313.5 L777.8,315.1 L775.3,315.1 L775.1,316.3 L773.6,317.9 L772.7,320.9 L774.7,322.4 L774.2,325.0 L776.5,327.2 L779.2,326.5 L780.3,327.5 L780.0,329.7 L780.5,331.6 L783.2,331.4 L785.6,332.1 L786.5,331.0 L789.2,331.0 L788.5,332.8 L787.9,335.1 L786.1,337.5 L783.8,339.1 L782.0,340.7 L778.3,342.9 L775.1,344.8 L777.8,344.2 L779.2,343.5 L782.9,342.3 L786.7,340.4 L790.1,337.1 L791.9,334.8 L794.3,333.4 L794.3,330.7 L795.9,329.3 L797.4,326.5 L799.2,323.5 L801.9,322.4 L800.1,323.2 L798.6,324.3 L799.0,329.7 L802.4,327.9 L804.6,326.8 L805.5,323.9 L808.2,323.9 L810.1,325.4 L813.0,326.8 L817.3,326.8 L819.1,327.9 L820.9,328.2 L823.8,331.4 L826.4,333.1 L828.2,336.5 L830.9,340.1 L831.8,342.6 L836.3,343.5Z M793.2,336.1 L795.0,337.8 L797.7,335.8 L797.9,333.1 L795.9,333.8Z M771.3,326.1 L773.3,325.4 L773.6,327.2 L772.0,327.5Z M762.6,313.9 L765.1,312.7 L767.7,314.3 L766.0,315.5 L763.5,315.5Z M774.9,343.9 L777.3,343.5 L777.3,345.1 L774.9,345.4Z M770.2,346.6 L772.4,346.6 L772.2,348.2 L770.0,348.8Z M767.5,348.2 L769.3,348.2 L768.9,349.9 L767.1,350.2Z M760.6,351.1 L762.4,350.8 L762.4,352.3 L760.6,352.6Z M756.8,351.4 L758.6,351.4 L758.6,352.9 L756.8,352.9Z M752.6,352.3 L754.4,352.3 L754.4,353.8 L752.6,353.8Z M749.5,352.9 L751.3,352.6 L751.3,354.0 L749.5,354.3Z M790.8,425.0 L792.8,425.8 L793.2,426.5 L791.6,427.7 L790.8,426.1Z M789.8,423.6 L791.0,423.7 L791.0,424.5 L789.8,424.4Z M786.9,422.3 L788.1,422.5 L787.9,423.3 L787.0,423.1Z M784.1,421.2 L785.0,421.2 L785.0,422.0 L784.1,422.0Z M1385.2,348.9 L1387.7,348.8 L1388.1,351.0 L1385.4,351.1Z" fill="#cd4826" stroke="#c9431f" stroke-width="1.2" stroke-linejoin="round"/>
<path d="M915.0,379.7 L916.4,379.5 L917.3,377.1 L917.0,374.1 L918.6,371.8 L919.7,369.8 L917.0,369.8 L915.0,371.6 L914.2,372.6 L915.2,373.6 L914.4,376.6Z" fill="#b83f20" stroke="none"/>
</g>
<defs><linearGradient id="gl" x1="0" x2="1" y1="0" y2="0"><stop offset="0" stop-color="#fbe9da"/><stop offset="1" stop-color="#cc4422"/></linearGradient></defs>
<rect x="770.5" y="598" width="164" height="19.5" fill="url(#gl)"/>
<text x="745.5" y="615" font-size="21.5" font-weight="bold" fill="#222">4</text>
<text x="947" y="615" font-size="21.5" font-weight="bold" fill="#222">76</text>
<path d="M1656.70,187.20 A187.8,187.8 0 0 1 1672.63,562.12 L1663.17,451.03 A76.3,76.3 0 0 0 1656.70,298.70 Z" fill="#3e64c8" stroke="#fff" stroke-width="1.6"/>
<text x="1808.6" y="376.5" text-anchor="middle" font-size="22" fill="#fff">36</text>
<path d="M1672.63,562.12 A187.8,187.8 0 0 1 1477.13,320.01 L1583.74,352.66 A76.3,76.3 0 0 0 1663.17,451.03 Z" fill="#cc4724" stroke="#fff" stroke-width="1.6"/>
<text x="1538.4" y="478.5" text-anchor="middle" font-size="22" fill="#fff">23</text>
<path d="M1477.13,320.01 A187.8,187.8 0 0 1 1579.34,203.87 L1625.27,305.47 A76.3,76.3 0 0 0 1583.74,352.66 Z" fill="#f0a038" stroke="#fff" stroke-width="1.6"/>
<text x="1542.6" y="282.5" text-anchor="middle" font-size="22" fill="#fff">10</text>
<path d="M1579.34,203.87 A187.8,187.8 0 0 1 1640.77,187.88 L1650.23,298.97 A76.3,76.3 0 0 0 1625.27,305.47 Z" fill="#3c922c" stroke="#fff" stroke-width="1.6"/>
<text x="1618.4" y="235.9" text-anchor="middle" font-size="22" fill="#fff">4</text>
<path d="M1640.77,187.88 A187.8,187.8 0 0 1 1656.70,187.20 L1656.70,298.70 A76.3,76.3 0 0 0 1650.23,298.97 Z" fill="#8e1a9c" stroke="#fff" stroke-width="1.6"/>
<circle cx="1891.5" cy="146.5" r="11" fill="#3e64c8"/>
<text x="1911" y="154.5" font-size="22" fill="#222" class="k">Enterprise</text>
<text x="1911" y="184.0" font-size="22" fill="#222" class="k">Outlook</text>
<circle cx="1891.5" cy="211.5" r="11" fill="#cc4724"/>
<text x="1911" y="219.5" font-size="22" fill="#222" class="k">google.com</text>
<circle cx="1891.5" cy="247.0" r="11" fill="#f0a038"/>
<text x="1911" y="255.0" font-size="22" fill="#222" class="k">Yahoo</text>
<circle cx="1891.5" cy="282.5" r="11" fill="#3c922c"/>
<text x="1911" y="290.5" font-size="22" fill="#222" class="k">Outlook.com</text>
<circle cx="1891.5" cy="317.5" r="11" fill="#8e1a9c"/>
<text x="1911" y="325.5" font-size="22" fill="#222" class="k">comcast.net</text>
<g transform="translate(1290.5,45.6) scale(0.056640625)"><path fill="#444" d="m55.7 199.7 30.9 30.9c6 6 14.1 9.4 22.6 9.4h21.5c8.5 0 16.6 3.4 22.6 9.4l29.3 29.3c6 6 9.4 14.1 9.4 22.6v37.5c0 8.5 3.4 16.6 9.4 22.6l13.3 13.3c6 6 9.4 14.1 9.4 22.6V416c0 17.7 14.3 32 32 32s32-14.3 32-32v-2.7c0-8.5 3.4-16.6 9.4-22.6l45.3-45.3c6-6 9.4-14.1 9.4-22.6v-34.7c0-17.7-14.3-32-32-32h-82.7c-8.5 0-16.6-3.4-22.6-9.4l-16-16c-4.2-4.2-6.6-10-6.6-16 0-12.5 10.1-22.6 22.6-22.6h34.7c12.5 0 22.6-10.1 22.6-22.6 0-6-2.4-11.8-6.6-16l-19.7-19.7c-3.9-3.8-5.9-8.7-5.9-13.8s2-10 5.700-13.7L263 89c5.800-5.800 9.100-13.700 9.100-21.900 0-7.200-2.400-13.700-6.400-18.900-3.200-.1-6.400-.2-9.600-.2-95.400 0-175.700 64.200-200.300 151.700zM464 256c0-34.600-8.400-67.200-23.400-95.800-6.400.9-12.700 3.900-17.900 9.100l-13.400 13.400c-6 6-9.400 14.100-9.400 22.600V240c0 17.700 14.300 32 32 32H456c2.500 0 5-.3 7.300-.8.4-5 .5-10.100.5-15.200zM0 256a256 256 0 1 1 512 0 256 256 0 1 1-512 0"/></g>
<g transform="translate(1351.6,48.599999999999994)"><rect x="0" y="0" width="28" height="24.5" rx="4" fill="#bdbdbd"/><rect x="2.8" y="7.3" width="9.5" height="4.9" fill="#efefef"/><rect x="15.7" y="7.3" width="9.5" height="4.9" fill="#efefef"/><rect x="2.8" y="16.4" width="9.5" height="4.9" fill="#efefef"/><rect x="15.7" y="16.4" width="9.5" height="4.9" fill="#efefef"/></g>
<g transform="translate(1987.8,45.8) scale(0.05642361111111111)"><path fill="#444" d="M512.4 240h-176c-17.7 0-32-14.3-32-32V32c0-17.7 14.4-32.2 31.9-29.9 107 14.2 191.8 99 206 206 2.3 17.5-12.2 31.9-29.9 31.9M222.6 37.2c18.1-3.8 33.8 11 33.8 29.5V264c0 5.6 2 11 5.5 15.3L394 438.7c11.7 14.1 9.2 35.4-6.9 44.1C353 501.4 313.9 512 272.400 512c-132.5 0-240-107.5-240-240 0-115.5 81.5-211.900 190.200-234.800M477.800 288h64c18.500 0 33.300 15.700 29.500 33.800-10.200 48.400-35 91.400-69.600 124.200-12.300 11.700-31.600 9.200-42.400-3.900l-84.400-101.700c-17.300-20.900-2.400-52.400 24.600-52.400h78.200z"/></g>
<g transform="translate(2052.3,48.599999999999994)"><rect x="0" y="0" width="28" height="24.5" rx="4" fill="#bdbdbd"/><rect x="2.8" y="7.3" width="9.5" height="4.9" fill="#efefef"/><rect x="15.7" y="7.3" width="9.5" height="4.9" fill="#efefef"/><rect x="2.8" y="16.4" width="9.5" height="4.9" fill="#efefef"/><rect x="15.7" y="16.4" width="9.5" height="4.9" fill="#efefef"/></g>
<circle cx="1541.6" cy="781.0" r="14.3" fill="#a83e3e"/><path d="M1537.88,777.28 L1545.32,784.72 M1545.32,777.28 L1537.88,784.72" stroke="#fff" stroke-width="3.1" stroke-linecap="round"/>
<g transform="translate(2002.3,770.7)" fill="none" stroke="#3d434a" stroke-width="3"><path d="M20.700,13 V6 a4.500,4.500 0 0 0 -4.500,-4.500 H6 a4.500,4.500 0 0 0 -4.500,4.500 V22.500 a4.500,4.500 0 0 0 4.500,4.500 H17"/><path d="M6.600,8.700 h9 M6.600,13.900 h9 M6.600,19.300 h4.200" stroke-width="2.700"/><circle cx="25.300" cy="20.600" r="7.500" fill="#2b3138" stroke="none"/><path d="M25.300,16.600 v0.300 M25.300,20.200 v4.700" stroke="#dfe3e8" stroke-width="2.500"/></g>
<g transform="translate(2042.5,768.9)" fill="none" stroke="#1c1c1c" stroke-width="3.900" stroke-linecap="round" stroke-linejoin="round"><path d="M9.200,8.900 L2.800,15.300 L9.200,21.700 M27.800,8.900 L34.200,15.300 L27.800,21.700 M22.300,2.400 L15.100,28.400"/></g>
<circle cx="1541.6" cy="841.0" r="14.3" fill="#a83e3e"/><path d="M1537.88,837.28 L1545.32,844.72 M1545.32,837.28 L1537.88,844.72" stroke="#fff" stroke-width="3.1" stroke-linecap="round"/>
<g transform="translate(2002.3,830.7)" fill="none" stroke="#3d434a" stroke-width="3"><path d="M20.700,13 V6 a4.500,4.500 0 0 0 -4.500,-4.500 H6 a4.500,4.500 0 0 0 -4.500,4.500 V22.500 a4.500,4.500 0 0 0 4.500,4.500 H17"/><path d="M6.600,8.700 h9 M6.600,13.900 h9 M6.600,19.300 h4.200" stroke-width="2.700"/><circle cx="25.300" cy="20.600" r="7.500" fill="#2b3138" stroke="none"/><path d="M25.300,16.600 v0.300 M25.300,20.200 v4.700" stroke="#dfe3e8" stroke-width="2.500"/></g>
<g transform="translate(2042.5,828.9)" fill="none" stroke="#1c1c1c" stroke-width="3.900" stroke-linecap="round" stroke-linejoin="round"><path d="M9.200,8.900 L2.800,15.300 L9.200,21.700 M27.800,8.900 L34.200,15.300 L27.800,21.700 M22.300,2.400 L15.100,28.400"/></g>
<circle cx="1541.6" cy="901.0" r="14.3" fill="#a83e3e"/><path d="M1537.88,897.28 L1545.32,904.72 M1545.32,897.28 L1537.88,904.72" stroke="#fff" stroke-width="3.1" stroke-linecap="round"/>
<g transform="translate(2002.3,890.7)" fill="none" stroke="#3d434a" stroke-width="3"><path d="M20.700,13 V6 a4.500,4.500 0 0 0 -4.500,-4.500 H6 a4.500,4.500 0 0 0 -4.500,4.500 V22.500 a4.500,4.500 0 0 0 4.500,4.500 H17"/><path d="M6.600,8.700 h9 M6.600,13.900 h9 M6.600,19.300 h4.200" stroke-width="2.700"/><circle cx="25.300" cy="20.600" r="7.500" fill="#2b3138" stroke="none"/><path d="M25.300,16.600 v0.300 M25.300,20.200 v4.700" stroke="#dfe3e8" stroke-width="2.500"/></g>
<g transform="translate(2042.5,888.9)" fill="none" stroke="#1c1c1c" stroke-width="3.900" stroke-linecap="round" stroke-linejoin="round"><path d="M9.200,8.900 L2.800,15.300 L9.200,21.700 M27.800,8.900 L34.200,15.300 L27.800,21.700 M22.300,2.400 L15.100,28.400"/></g>
<circle cx="1541.6" cy="961.0" r="14.3" fill="#a83e3e"/><path d="M1537.88,957.28 L1545.32,964.72 M1545.32,957.28 L1537.88,964.72" stroke="#fff" stroke-width="3.1" stroke-linecap="round"/>
<g transform="translate(2002.3,950.7)" fill="none" stroke="#3d434a" stroke-width="3"><path d="M20.700,13 V6 a4.500,4.500 0 0 0 -4.500,-4.500 H6 a4.500,4.500 0 0 0 -4.500,4.500 V22.500 a4.500,4.500 0 0 0 4.500,4.500 H17"/><path d="M6.600,8.700 h9 M6.600,13.900 h9 M6.600,19.300 h4.200" stroke-width="2.700"/><circle cx="25.300" cy="20.600" r="7.500" fill="#2b3138" stroke="none"/><path d="M25.300,16.600 v0.300 M25.300,20.200 v4.700" stroke="#dfe3e8" stroke-width="2.500"/></g>
<g transform="translate(2042.5,948.9)" fill="none" stroke="#1c1c1c" stroke-width="3.900" stroke-linecap="round" stroke-linejoin="round"><path d="M9.200,8.900 L2.800,15.300 L9.200,21.700 M27.800,8.900 L34.200,15.300 L27.800,21.700 M22.300,2.400 L15.100,28.400"/></g>
<circle cx="1541.6" cy="1021.0" r="14.3" fill="#a83e3e"/><path d="M1537.88,1017.28 L1545.32,1024.72 M1545.32,1017.28 L1537.88,1024.72" stroke="#fff" stroke-width="3.1" stroke-linecap="round"/>
<g transform="translate(2002.3,1010.7)" fill="none" stroke="#3d434a" stroke-width="3"><path d="M20.700,13 V6 a4.500,4.500 0 0 0 -4.500,-4.500 H6 a4.500,4.500 0 0 0 -4.500,4.500 V22.500 a4.500,4.500 0 0 0 4.500,4.500 H17"/><path d="M6.600,8.700 h9 M6.600,13.900 h9 M6.600,19.300 h4.200" stroke-width="2.700"/><circle cx="25.300" cy="20.600" r="7.500" fill="#2b3138" stroke="none"/><path d="M25.300,16.600 v0.300 M25.300,20.200 v4.700" stroke="#dfe3e8" stroke-width="2.500"/></g>
<g transform="translate(2042.5,1008.9)" fill="none" stroke="#1c1c1c" stroke-width="3.900" stroke-linecap="round" stroke-linejoin="round"><path d="M9.200,8.900 L2.800,15.300 L9.200,21.700 M27.800,8.900 L34.200,15.300 L27.800,21.700 M22.300,2.400 L15.100,28.400"/></g>
<circle cx="1541.6" cy="1081.0" r="14.3" fill="#a83e3e"/><path d="M1537.88,1077.28 L1545.32,1084.72 M1545.32,1077.28 L1537.88,1084.72" stroke="#fff" stroke-width="3.1" stroke-linecap="round"/>
<g transform="translate(2002.3,1070.7)" fill="none" stroke="#3d434a" stroke-width="3"><path d="M20.700,13 V6 a4.500,4.500 0 0 0 -4.500,-4.500 H6 a4.500,4.500 0 0 0 -4.500,4.500 V22.500 a4.500,4.500 0 0 0 4.500,4.500 H17"/><path d="M6.600,8.700 h9 M6.600,13.900 h9 M6.600,19.300 h4.200" stroke-width="2.700"/><circle cx="25.300" cy="20.600" r="7.500" fill="#2b3138" stroke="none"/><path d="M25.300,16.600 v0.300 M25.300,20.200 v4.700" stroke="#dfe3e8" stroke-width="2.500"/></g>
<g transform="translate(2042.5,1068.9)" fill="none" stroke="#1c1c1c" stroke-width="3.900" stroke-linecap="round" stroke-linejoin="round"><path d="M9.200,8.900 L2.800,15.300 L9.200,21.700 M27.800,8.900 L34.200,15.300 L27.800,21.700 M22.300,2.400 L15.100,28.400"/></g>
<path d="M1767,722 h16 l-8,9.300 z" fill="#3b5a94" stroke="#3b5a94" stroke-width="2" stroke-linejoin="round"/>
</svg>
</div></div></div>
</body></html>
